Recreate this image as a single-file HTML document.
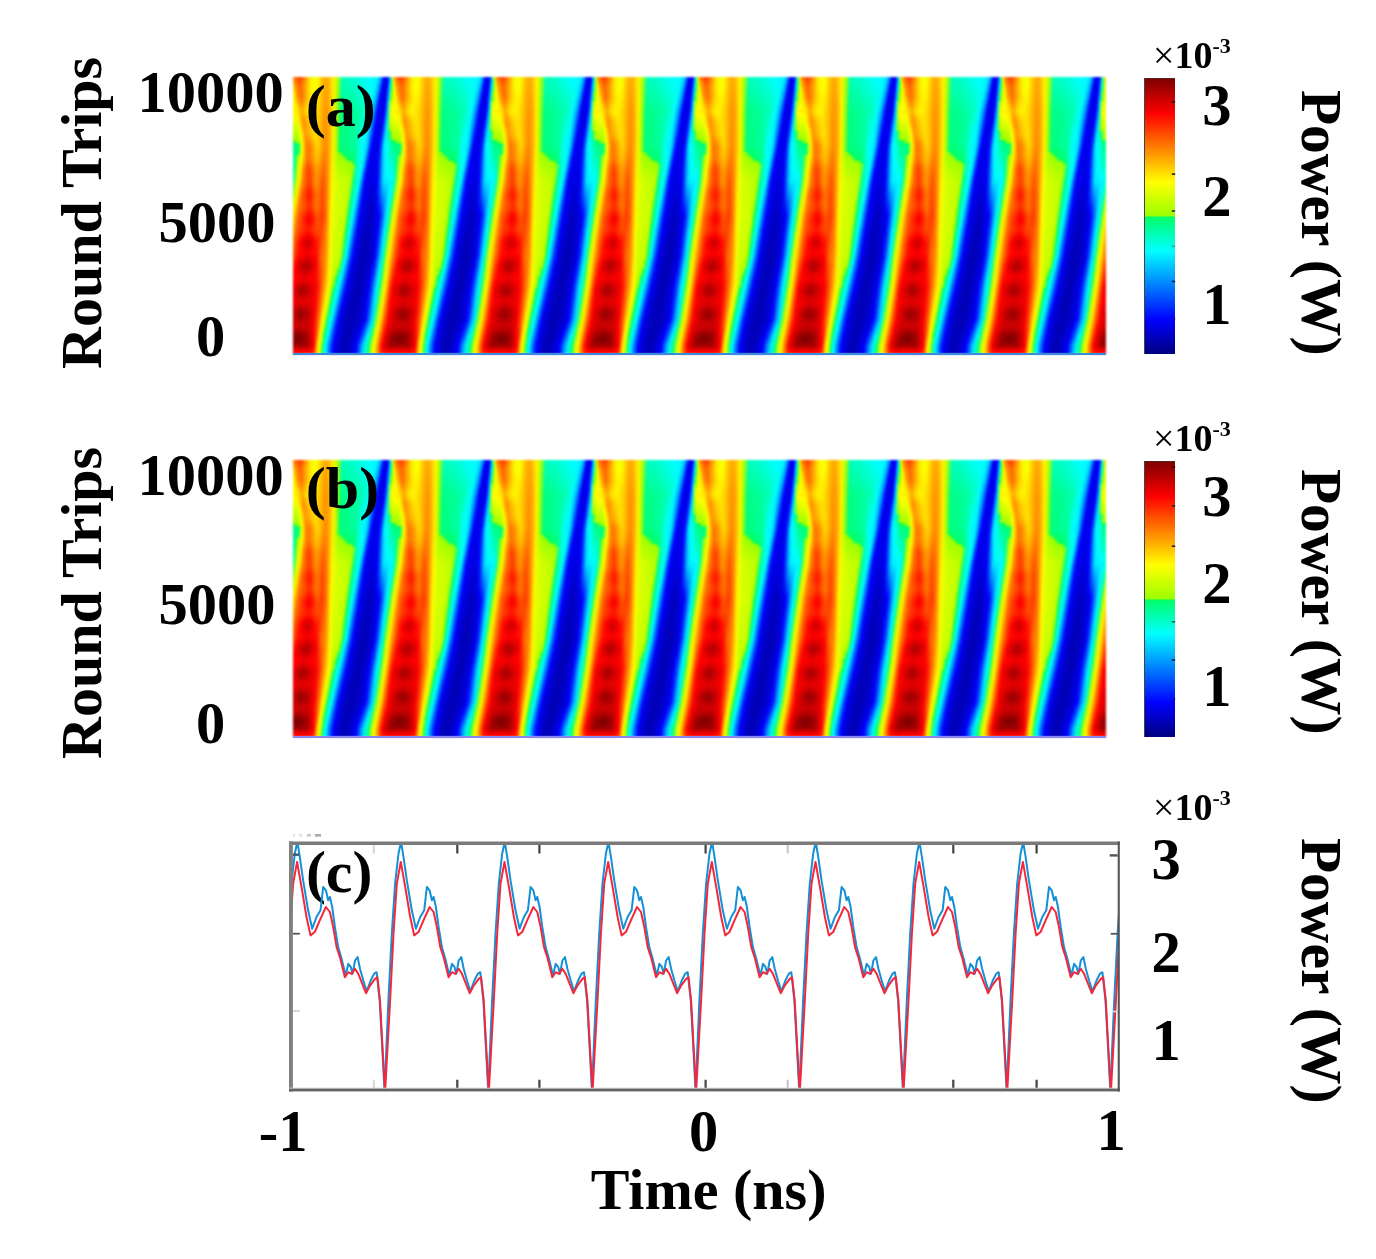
<!DOCTYPE html>
<html><head><meta charset="utf-8"><title>fig</title>
<style>
html,body{margin:0;padding:0;background:#fff}
body{width:1376px;height:1259px;position:relative;overflow:hidden;font-family:"Liberation Serif",serif;font-weight:bold;color:#000}
.hm{position:absolute;left:293px;width:813px;height:277px;overflow:hidden;filter:blur(1px)}
.hm i{position:absolute;left:0;width:813px;height:3.5px;display:block}
.hb{position:absolute;left:293px;width:813px;height:1.5px}
.r0{top:0px;background:repeating-linear-gradient(90deg,#0000e6 0.0px,#0000ed 0.8px,#0000f6 1.6px,#0005ff 2.4px,#0056ff 3.2px,#00baff 4.0px,#00ffe5 4.8px,#00ff8d 5.6px,#b9ff00 6.4px,#f5ff00 7.2px,#ffd000 8.0px,#ff9900 8.8px,#ff8300 9.6px,#ff7900 10.3px,#ff6f00 11.1px,#ff6400 11.9px,#ff5a00 12.7px,#ff5000 13.5px,#ff4600 14.3px,#ff3d00 15.1px,#ff4000 15.8px,#ff7000 19.2px,#ffab00 22.5px,#ffeb00 25.9px,#f1ff00 29.2px,#f9ff00 32.5px,#ffd900 35.9px,#ffb400 39.2px,#ffa900 42.5px,#ffc800 45.9px,#fff500 49.2px,#aeff00 53.6px,#00ffbc 58.0px,#00ffc3 62.4px,#00ffcb 66.9px,#00ffd4 71.3px,#00ffe4 75.7px,#00fff4 80.1px,#00fffd 84.5px,#00f9ff 88.9px,#00f0ff 93.3px,#00dbff 94.2px,#00c6ff 95.0px,#00b0ff 95.8px,#009aff 96.6px,#006eff 97.5px,#0038ff 98.3px,#0002ff 99.1px,#0000f7 99.9px,#0000ee 100.8px,#0000e6 101.6px);background-position:-8.7px 0}
.r1{top:3px;background:repeating-linear-gradient(90deg,#0000e6 0.0px,#0000ed 0.9px,#0000f6 1.8px,#0011ff 2.7px,#006aff 3.6px,#00d6ff 4.5px,#00ffcb 5.4px,#00ff7a 6.3px,#c1ff00 7.1px,#f5ff00 8.0px,#ffd500 8.9px,#ffa200 9.7px,#ff8e00 10.5px,#ff8500 11.2px,#ff7b00 12.0px,#ff7200 12.7px,#ff6800 13.5px,#ff5f00 14.3px,#ff5500 15.0px,#ff4d00 15.8px,#ff5100 16.5px,#ff7f00 19.9px,#ffb500 23.2px,#ffee00 26.5px,#f4ff00 29.8px,#fcff00 33.1px,#ffd500 36.4px,#ffb100 39.7px,#ffa800 43.0px,#ffc700 46.3px,#fff500 49.6px,#adff00 54.0px,#00ffb6 58.3px,#00ffbe 62.6px,#00ffc5 67.0px,#00ffce 71.3px,#00ffde 75.6px,#00ffed 80.0px,#00fff7 84.3px,#00fdff 88.6px,#00f2ff 93.0px,#00dcff 93.8px,#00c7ff 94.7px,#00b1ff 95.6px,#0099ff 96.4px,#006dff 97.3px,#0038ff 98.2px,#0002ff 99.0px,#0000f6 99.9px,#0000ed 100.7px,#0000e6 101.6px);background-position:-9.1px 0}
.r2{top:6px;background:repeating-linear-gradient(90deg,#0000e6 0.0px,#0000ed 1.0px,#0000f7 2.0px,#001dff 3.0px,#007eff 4.0px,#00f2ff 4.9px,#00ffb0 5.9px,#00ff67 6.9px,#c9ff00 7.9px,#f6ff00 8.9px,#ffd900 9.9px,#ffab00 10.6px,#ff9900 11.4px,#ff9000 12.1px,#ff8700 12.8px,#ff7e00 13.6px,#ff7500 14.3px,#ff6b00 15.0px,#ff6200 15.8px,#ff5c00 16.5px,#ff6000 17.2px,#ff8c00 20.5px,#ffbe00 23.8px,#fff000 27.1px,#f7ff00 30.4px,#fffe00 33.7px,#ffd200 36.9px,#ffaf00 40.2px,#ffa600 43.5px,#ffc600 46.8px,#fff500 50.1px,#acff00 54.3px,#00ffb1 58.6px,#00ffb9 62.8px,#00ffc0 67.1px,#00ffc8 71.4px,#00ffd7 75.6px,#00ffe7 79.9px,#00fff0 84.1px,#00fffc 88.4px,#00f3ff 92.6px,#00ddff 93.5px,#00c8ff 94.4px,#00b2ff 95.3px,#0099ff 96.2px,#006cff 97.1px,#0037ff 98.0px,#0002ff 98.9px,#0000f6 99.8px,#0000ec 100.7px,#0000e6 101.6px);background-position:-9.6px 0}
.r3{top:9px;background:repeating-linear-gradient(90deg,#0000e6 0.0px,#0000ec 1.1px,#0000f8 2.2px,#0029ff 3.3px,#0092ff 4.3px,#00ffed 5.4px,#00ff95 6.5px,#a5ff00 7.6px,#d1ff00 8.7px,#f9ff00 9.8px,#ffda00 10.8px,#ffb000 11.5px,#ff9f00 12.3px,#ff9700 13.0px,#ff8e00 13.7px,#ff8500 14.4px,#ff7c00 15.1px,#ff7300 15.8px,#ff6a00 16.5px,#ff6500 17.2px,#ff6900 17.9px,#ff9500 21.2px,#ffc300 24.4px,#fff000 27.7px,#faff00 31.0px,#fff900 34.2px,#ffcf00 37.5px,#ffac00 40.7px,#ffa400 44.0px,#ffc500 47.3px,#fff500 50.5px,#abff00 54.7px,#00ffac 58.9px,#00ffb3 63.0px,#00ffba 67.2px,#00ffc3 71.4px,#00ffd1 75.6px,#00ffe0 79.8px,#00ffea 83.9px,#00fff7 88.1px,#00f4ff 92.3px,#00dfff 93.2px,#00c9ff 94.1px,#00b3ff 95.1px,#0098ff 96.0px,#006bff 96.9px,#0036ff 97.9px,#0002ff 98.8px,#0000f6 99.7px,#0000ec 100.7px,#0000e6 101.6px);background-position:-10.0px 0}
.r4{top:12px;background:repeating-linear-gradient(90deg,#0000e6 0.0px,#0000ec 1.2px,#0000f8 2.4px,#0036ff 3.5px,#00a6ff 4.7px,#00ffcc 5.9px,#00ff7a 7.1px,#b2ff00 8.3px,#d8ff00 9.4px,#fdff00 10.6px,#ffd800 11.8px,#ffb200 12.5px,#ffa200 13.2px,#ff9900 13.8px,#ff9000 14.5px,#ff8700 15.2px,#ff7e00 15.9px,#ff7500 16.6px,#ff6c00 17.3px,#ff6800 17.9px,#ff6d00 18.6px,#ff9800 21.9px,#ffc500 25.1px,#ffef00 28.3px,#feff00 31.6px,#fff300 34.8px,#ffcb00 38.0px,#ffaa00 41.3px,#ffa300 44.5px,#ffc300 47.7px,#fff500 50.9px,#aaff00 55.0px,#00ffa7 59.1px,#00ffae 63.2px,#00ffb5 67.3px,#00ffbd 71.4px,#00ffca 75.5px,#00ffd9 79.6px,#00ffe3 83.7px,#00fff2 87.8px,#00f6ff 91.9px,#00e0ff 92.9px,#00caff 93.9px,#00b4ff 94.8px,#0097ff 95.8px,#006aff 96.8px,#0036ff 97.7px,#0002ff 98.7px,#0000f5 99.7px,#0000eb 100.6px,#0000e6 101.6px);background-position:-10.4px 0}
.r5{top:15px;background:repeating-linear-gradient(90deg,#0000e6 0.0px,#0000ec 1.3px,#0000f9 2.5px,#0042ff 3.8px,#00baff 5.1px,#00ffaa 6.4px,#9dff00 7.6px,#bfff00 8.9px,#e0ff00 10.2px,#fffa00 11.5px,#ffd500 12.7px,#ffb300 13.4px,#ffa300 14.1px,#ff9a00 14.7px,#ff9100 15.4px,#ff8800 16.0px,#ff7e00 16.7px,#ff7500 17.3px,#ff6c00 18.0px,#ff6a00 18.7px,#ff6e00 19.3px,#ff9a00 22.5px,#ffc600 25.7px,#ffed00 28.9px,#fffb00 32.1px,#ffee00 35.3px,#ffc800 38.6px,#ffa700 41.8px,#ffa100 45.0px,#ffc200 48.2px,#fff500 51.4px,#a9ff00 55.4px,#00ffa2 59.4px,#00ffa9 63.4px,#00ffaf 67.5px,#00ffb7 71.5px,#00ffc4 75.5px,#00ffd2 79.5px,#00ffdc 83.6px,#00ffed 87.6px,#00f7ff 91.6px,#00e1ff 92.6px,#00cbff 93.6px,#00b5ff 94.6px,#0096ff 95.6px,#0068ff 96.6px,#0035ff 97.6px,#0002ff 98.6px,#0000f5 99.6px,#0000eb 100.6px,#0000e6 101.6px);background-position:-10.9px 0}
.r6{top:18px;background:repeating-linear-gradient(90deg,#0000e6 0.0px,#0000ec 1.4px,#0000fa 2.7px,#004eff 4.1px,#00ceff 5.5px,#00ff88 6.8px,#afff00 8.2px,#ccff00 9.6px,#e8ff00 11.0px,#fff400 12.3px,#ffd200 13.7px,#ffb400 14.3px,#ffa600 15.0px,#ff9c00 15.6px,#ff9300 16.2px,#ff8a00 16.9px,#ff8100 17.5px,#ff7700 18.1px,#ff6e00 18.7px,#ff6d00 19.4px,#ff7200 20.0px,#ff9d00 23.2px,#ffc800 26.4px,#ffeb00 29.5px,#fff600 32.7px,#ffe900 35.9px,#ffc500 39.1px,#ffa500 42.3px,#ffa000 45.5px,#ffc100 48.6px,#fff500 51.8px,#a8ff00 55.8px,#00ff9d 59.7px,#00ffa3 63.6px,#00ffaa 67.6px,#00ffb1 71.5px,#00ffbd 75.5px,#00ffcb 79.4px,#00ffd6 83.4px,#00ffe8 87.3px,#00f8ff 91.2px,#00e2ff 92.3px,#00ccff 93.3px,#00b5ff 94.4px,#0095ff 95.4px,#0067ff 96.4px,#0034ff 97.5px,#0002ff 98.5px,#0000f5 99.5px,#0000ea 100.6px,#0000e6 101.6px);background-position:-11.3px 0}
.r7{top:21px;background:repeating-linear-gradient(90deg,#0000e6 0.0px,#0000eb 1.5px,#0000fa 2.9px,#005bff 4.4px,#00e2ff 5.9px,#00ff67 7.3px,#c1ff00 8.8px,#d8ff00 10.3px,#f2ff00 11.7px,#fff100 13.2px,#ffd300 14.6px,#ffba00 15.3px,#ffac00 15.9px,#ffa300 16.5px,#ff9a00 17.1px,#ff9100 17.7px,#ff8800 18.3px,#ff7f00 18.9px,#ff7600 19.5px,#ff7600 20.1px,#ff7b00 20.7px,#ffa600 23.9px,#ffcd00 27.0px,#ffeb00 30.2px,#fff200 33.3px,#ffe400 36.5px,#ffc100 39.6px,#ffa300 42.8px,#ff9e00 45.9px,#ffc000 49.1px,#fff500 52.2px,#a7ff00 56.1px,#00ff98 60.0px,#00ff9e 63.8px,#00ffa5 67.7px,#00ffab 71.6px,#00ffb7 75.4px,#00ffc4 79.3px,#00ffcf 83.2px,#00ffe3 87.0px,#00faff 90.9px,#00e3ff 92.0px,#00cdff 93.0px,#00b6ff 94.1px,#0095ff 95.2px,#0066ff 96.3px,#0034ff 97.3px,#0001ff 98.4px,#0000f4 99.5px,#0000e9 100.5px,#0000e6 101.6px);background-position:-11.7px 0}
.r8{top:24px;background:repeating-linear-gradient(90deg,#0000e6 0.0px,#0000eb 1.6px,#0000fb 3.1px,#0067ff 4.7px,#00f6ff 6.2px,#afff00 7.8px,#d3ff00 9.4px,#e5ff00 10.9px,#f8ff00 12.5px,#fff000 14.0px,#ffd800 15.6px,#ffc300 16.2px,#ffb700 16.8px,#ffae00 17.3px,#ffa500 17.9px,#ff9d00 18.5px,#ff9400 19.1px,#ff8c00 19.7px,#ff8300 20.2px,#ff8500 20.8px,#ff8a00 21.4px,#ffb300 24.5px,#ffd600 27.6px,#ffee00 30.8px,#ffef00 33.9px,#ffdf00 37.0px,#ffbe00 40.2px,#ffa000 43.3px,#ff9d00 46.4px,#ffbf00 49.6px,#fff500 52.7px,#a6ff00 56.5px,#00ff92 60.3px,#00ff99 64.0px,#00ff9f 67.8px,#00ffa6 71.6px,#00ffb1 75.4px,#00ffbe 79.2px,#00ffc9 83.0px,#00ffde 86.8px,#00fbff 90.6px,#00e4ff 91.7px,#00ceff 92.8px,#00b7ff 93.9px,#0094ff 95.0px,#0065ff 96.1px,#0033ff 97.2px,#0001ff 98.3px,#0000f4 99.4px,#0000e9 100.5px,#0000e6 101.6px);background-position:-12.2px 0}
.r9{top:27px;background:repeating-linear-gradient(90deg,#0000e6 0.0px,#0000eb 1.7px,#0000fc 3.3px,#0073ff 5.0px,#00fff3 6.6px,#c5ff00 8.3px,#e5ff00 9.9px,#f1ff00 11.6px,#feff00 13.2px,#fff100 14.9px,#ffde00 16.6px,#ffce00 17.1px,#ffc300 17.7px,#ffbb00 18.2px,#ffb300 18.8px,#ffab00 19.3px,#ffa300 19.9px,#ff9b00 20.4px,#ff9200 21.0px,#ff9600 21.5px,#ff9b00 22.1px,#ffc200 25.2px,#ffe000 28.3px,#fff100 31.4px,#ffec00 34.5px,#ffda00 37.6px,#ffbb00 40.7px,#ff9e00 43.8px,#ff9b00 46.9px,#ffbd00 50.0px,#fff500 53.1px,#a5ff00 56.8px,#00ff8d 60.5px,#00ff93 64.2px,#00ff9a 68.0px,#00ffa0 71.7px,#00ffaa 75.4px,#00ffb7 79.1px,#00ffc2 82.8px,#00ffd9 86.5px,#00fcff 90.2px,#00e5ff 91.3px,#00cfff 92.5px,#00b8ff 93.6px,#0093ff 94.8px,#0064ff 95.9px,#0032ff 97.0px,#0001ff 98.2px,#0000f4 99.3px,#0000e8 100.5px,#0000e6 101.6px);background-position:-12.6px 0}
.r10{top:30px;background:repeating-linear-gradient(90deg,#0000e6 0.0px,#0000ea 1.8px,#0000fc 3.5px,#007fff 5.3px,#00ffdb 7.0px,#dbff00 8.8px,#f6ff00 10.5px,#fdff00 12.3px,#fff900 14.0px,#fff100 15.8px,#ffe300 17.5px,#ffd700 18.0px,#ffce00 18.6px,#ffc700 19.1px,#ffbf00 19.6px,#ffb700 20.1px,#ffaf00 20.7px,#ffa700 21.2px,#ff9f00 21.7px,#ffa400 22.3px,#ffaa00 22.8px,#ffcf00 25.9px,#ffe900 28.9px,#fff300 32.0px,#ffe900 35.1px,#ffd600 38.2px,#ffb800 41.2px,#ff9b00 44.3px,#ff9a00 47.4px,#ffbc00 50.5px,#fff500 53.5px,#a4ff00 57.2px,#00ff88 60.8px,#00ff8e 64.4px,#00ff94 68.1px,#00ff9a 71.7px,#00ffa4 75.3px,#00ffb0 79.0px,#00ffbc 82.6px,#00ffd4 86.2px,#00feff 89.9px,#00e7ff 91.0px,#00d0ff 92.2px,#00b9ff 93.4px,#0092ff 94.6px,#0062ff 95.7px,#0032ff 96.9px,#0001ff 98.1px,#0000f3 99.3px,#0000e7 100.4px,#0000e6 101.6px);background-position:-13.0px 0}
.r11{top:33px;background:repeating-linear-gradient(90deg,#0000e6 0.0px,#0000ea 1.8px,#0000fd 3.7px,#008cff 5.5px,#00ffc3 7.4px,#f1ff00 9.2px,#fff400 11.1px,#fff200 12.9px,#ffef00 14.8px,#ffed00 16.6px,#ffe400 18.5px,#ffdd00 19.0px,#ffd500 19.5px,#ffce00 20.0px,#ffc600 20.5px,#ffbe00 21.0px,#ffb700 21.5px,#ffaf00 22.0px,#ffa700 22.5px,#ffad00 23.0px,#ffb300 23.5px,#ffd800 26.5px,#ffee00 29.6px,#fff300 32.6px,#ffe500 35.7px,#ffd100 38.7px,#ffb500 41.8px,#ff9900 44.8px,#ff9800 47.9px,#ffbb00 50.9px,#fff500 54.0px,#a3ff00 57.5px,#00ff83 61.1px,#00ff89 64.6px,#00ff8f 68.2px,#00ff94 71.7px,#00ff9d 75.3px,#00ffa9 78.9px,#00ffb5 82.4px,#00ffcf 86.0px,#00ffff 89.5px,#00e8ff 90.7px,#00d1ff 91.9px,#00baff 93.1px,#0091ff 94.3px,#0061ff 95.6px,#0031ff 96.8px,#0001ff 98.0px,#0000f3 99.2px,#0000e7 100.4px,#0000e6 101.6px);background-position:-13.5px 0}
.r12{top:36px;background:repeating-linear-gradient(90deg,#0000e6 0.0px,#0000eb 1.9px,#0003ff 3.8px,#0095ff 5.8px,#00ffc6 7.7px,#e5ff00 9.6px,#feff00 11.5px,#fffd00 13.5px,#fffb00 15.4px,#fff800 17.3px,#ffe700 19.2px,#ffde00 19.8px,#ffd500 20.3px,#ffcc00 20.8px,#ffc300 21.3px,#ffbb00 21.8px,#ffb200 22.3px,#ffa900 22.8px,#ffa000 23.3px,#ffa500 23.8px,#ffab00 24.3px,#ffce00 27.3px,#ffe500 30.3px,#ffee00 33.4px,#ffe300 36.4px,#ffcf00 39.4px,#ffb300 42.4px,#ff9700 45.4px,#ff9800 48.4px,#ffbb00 51.4px,#fff500 54.4px,#a4ff00 57.9px,#00ff82 61.5px,#00ff88 65.0px,#00ff8e 68.5px,#00ff94 72.1px,#00ff9d 75.6px,#00ffa8 79.1px,#00ffb9 82.7px,#00ffd4 86.2px,#00fdff 89.7px,#00e4ff 90.9px,#00cbff 92.1px,#00b2ff 93.3px,#008aff 94.5px,#005aff 95.7px,#002dff 96.9px,#0000ff 98.0px,#0000f3 99.2px,#0000e7 100.4px,#0000e6 101.6px);background-position:-14.0px 0}
.r13{top:39px;background:repeating-linear-gradient(90deg,#0000e6 0.0px,#0000eb 2.0px,#0008ff 4.0px,#009eff 6.0px,#00ffcb 8.0px,#d7ff00 10.0px,#f3ff00 12.0px,#f6ff00 14.0px,#f9ff00 16.0px,#fdff00 18.0px,#ffe800 20.0px,#ffde00 20.5px,#ffd300 21.1px,#ffc900 21.6px,#ffbf00 22.1px,#ffb400 22.6px,#ffaa00 23.1px,#ffa000 23.6px,#ff9600 24.2px,#ff9a00 24.7px,#ffa000 25.2px,#ffc100 28.2px,#ffda00 31.1px,#ffe700 34.1px,#ffe000 37.1px,#ffcc00 40.0px,#ffb100 43.0px,#ff9500 46.0px,#ff9900 48.9px,#ffbb00 51.9px,#fff500 54.8px,#a5ff00 58.4px,#00ff82 61.9px,#00ff87 65.4px,#00ff8d 68.9px,#00ff93 72.4px,#00ff9c 75.9px,#00ffa8 79.5px,#00ffbe 83.0px,#00ffda 86.5px,#00fbff 90.0px,#00e0ff 91.2px,#00c5ff 92.3px,#00abff 93.5px,#0082ff 94.6px,#0053ff 95.8px,#0028ff 97.0px,#0000fe 98.1px,#0000f2 99.3px,#0000e7 100.4px,#0000e6 101.6px);background-position:-14.4px 0}
.r14{top:42px;background:repeating-linear-gradient(90deg,#0000e7 0.0px,#0000ec 2.1px,#000dff 4.2px,#00a7ff 6.2px,#00ffcf 8.3px,#c8ff00 10.4px,#e7ff00 12.5px,#eaff00 14.6px,#efff00 16.6px,#f3ff00 18.7px,#ffec00 20.8px,#ffdf00 21.3px,#ffd300 21.9px,#ffc700 22.4px,#ffbc00 22.9px,#ffb000 23.4px,#ffa500 24.0px,#ff9a00 24.5px,#ff8f00 25.0px,#ff9200 25.5px,#ff9700 26.1px,#ffb600 29.0px,#ffd100 31.9px,#ffe200 34.8px,#ffdf00 37.8px,#ffca00 40.7px,#ffaf00 43.6px,#ff9400 46.5px,#ff9900 49.4px,#ffbb00 52.4px,#fff500 55.3px,#a6ff00 58.8px,#00ff81 62.3px,#00ff87 65.8px,#00ff8d 69.3px,#00ff93 72.8px,#00ff9c 76.3px,#00ffa7 79.8px,#00ffc3 83.3px,#00ffdf 86.8px,#00f8ff 90.3px,#00dcff 91.4px,#00c0ff 92.5px,#00a3ff 93.7px,#007aff 94.8px,#004bff 95.9px,#0024ff 97.1px,#0000fd 98.2px,#0000f2 99.3px,#0000e8 100.5px,#0000e7 101.6px);background-position:-14.9px 0}
.r15{top:45px;background:repeating-linear-gradient(90deg,#0000e7 0.0px,#0000ec 2.2px,#0012ff 4.3px,#00b0ff 6.5px,#00ffd4 8.6px,#baff00 10.8px,#dbff00 13.0px,#deff00 15.1px,#e1ff00 17.3px,#e4ff00 19.4px,#fff300 21.6px,#ffe500 22.1px,#ffd800 22.7px,#ffcb00 23.2px,#ffbe00 23.7px,#ffb200 24.3px,#ffa500 24.8px,#ff9900 25.3px,#ff8d00 25.9px,#ff8f00 26.4px,#ff9400 26.9px,#ffb100 29.8px,#ffcb00 32.7px,#ffde00 35.6px,#ffde00 38.4px,#ffc800 41.3px,#ffad00 44.2px,#ff9200 47.1px,#ff9a00 50.0px,#ffbc00 52.8px,#fff500 55.7px,#a6ff00 59.2px,#00ff80 62.7px,#00ff86 66.2px,#00ff8c 69.6px,#00ff93 73.1px,#00ff9b 76.6px,#00ffa6 80.1px,#00ffc8 83.6px,#00ffe4 87.0px,#00f6ff 90.5px,#00d8ff 91.6px,#00baff 92.7px,#009cff 93.9px,#0072ff 95.0px,#0044ff 96.1px,#001fff 97.2px,#0000fc 98.3px,#0000f2 99.4px,#0000e8 100.5px,#0000e7 101.6px);background-position:-15.4px 0}
.r16{top:48px;background:repeating-linear-gradient(90deg,#0000e8 0.0px,#0000ed 2.2px,#0017ff 4.5px,#00b9ff 6.7px,#00ffd8 8.9px,#acff00 11.2px,#cfff00 13.4px,#d2ff00 15.7px,#d5ff00 17.9px,#d8ff00 20.1px,#fffd00 22.4px,#ffef00 22.9px,#ffe000 23.5px,#ffd200 24.0px,#ffc500 24.5px,#ffb800 25.1px,#ffaa00 25.6px,#ff9d00 26.2px,#ff9000 26.7px,#ff9100 27.3px,#ff9600 27.8px,#ffb000 30.6px,#ffc800 33.5px,#ffdd00 36.3px,#ffde00 39.1px,#ffc700 42.0px,#ffac00 44.8px,#ff9100 47.6px,#ff9a00 50.5px,#ffbc00 53.3px,#fff500 56.1px,#a7ff00 59.6px,#00ff80 63.1px,#00ff86 66.5px,#00ff8c 70.0px,#00ff92 73.5px,#00ff9b 76.9px,#00ffa6 80.4px,#00ffcd 83.9px,#00ffea 87.3px,#00f4ff 90.8px,#00d4ff 91.9px,#00b4ff 93.0px,#0094ff 94.0px,#006bff 95.1px,#003dff 96.2px,#001aff 97.3px,#0000fb 98.4px,#0000f1 99.4px,#0000e8 100.5px,#0000e8 101.6px);background-position:-15.9px 0}
.r17{top:51px;background:repeating-linear-gradient(90deg,#0000e8 0.0px,#0000ee 2.3px,#001bff 4.6px,#00c2ff 6.9px,#00ffdc 9.3px,#9dff00 11.6px,#c4ff00 13.9px,#c7ff00 16.2px,#caff00 18.5px,#cdff00 20.8px,#f6ff00 23.1px,#fffa00 23.7px,#ffeb00 24.2px,#ffdc00 24.8px,#ffce00 25.4px,#ffc000 25.9px,#ffb200 26.5px,#ffa400 27.0px,#ff9600 27.6px,#ff9600 28.1px,#ff9a00 28.7px,#ffb100 31.5px,#ffc700 34.2px,#ffdc00 37.0px,#ffde00 39.8px,#ffc600 42.6px,#ffaa00 45.4px,#ff8f00 48.2px,#ff9b00 51.0px,#ffbc00 53.8px,#fff500 56.6px,#a8ff00 60.0px,#00ff7f 63.5px,#00ff85 66.9px,#00ff8b 70.4px,#00ff92 73.8px,#00ff9b 77.3px,#00ffa5 80.7px,#00ffd2 84.2px,#00ffef 87.6px,#00f2ff 91.0px,#00d0ff 92.1px,#00afff 93.2px,#008dff 94.2px,#0063ff 95.3px,#0035ff 96.3px,#0016ff 97.4px,#0000fa 98.4px,#0000f1 99.5px,#0000e9 100.5px,#0000e8 101.6px);background-position:-16.3px 0}
.r18{top:54px;background:repeating-linear-gradient(90deg,#0000e9 0.0px,#0000ee 2.4px,#0020ff 4.8px,#00cbff 7.2px,#00ffe1 9.6px,#00ff75 12.0px,#b8ff00 14.4px,#bbff00 16.7px,#beff00 19.1px,#c1ff00 21.5px,#eeff00 23.9px,#fbff00 24.5px,#fff400 25.0px,#ffe400 25.6px,#ffd500 26.2px,#ffc600 26.7px,#ffb700 27.3px,#ffa800 27.8px,#ff9900 28.4px,#ff9800 29.0px,#ff9c00 29.5px,#ffb100 32.3px,#ffc500 35.0px,#ffdb00 37.8px,#ffdf00 40.5px,#ffc500 43.3px,#ffa800 46.0px,#ff8e00 48.8px,#ff9b00 51.5px,#ffbc00 54.3px,#fff500 57.0px,#a9ff00 60.4px,#00ff7f 63.9px,#00ff85 67.3px,#00ff8a 70.7px,#00ff91 74.2px,#00ff9a 77.6px,#00ffa5 81.0px,#00ffd6 84.4px,#00fff4 87.9px,#00f0ff 91.3px,#00ccff 92.3px,#00a9ff 93.4px,#0085ff 94.4px,#005bff 95.4px,#002eff 96.5px,#0011ff 97.5px,#0000f9 98.5px,#0000f1 99.5px,#0000e9 100.6px,#0000e9 101.6px);background-position:-16.8px 0}
.r19{top:57px;background:repeating-linear-gradient(90deg,#0000e9 0.0px,#0000ef 2.5px,#0025ff 4.9px,#00d4ff 7.4px,#00ffe5 9.9px,#00ff8a 12.4px,#acff00 14.8px,#afff00 17.3px,#b3ff00 19.8px,#b6ff00 22.2px,#e8ff00 24.7px,#f6ff00 25.3px,#fff800 25.8px,#ffe700 26.4px,#ffd700 27.0px,#ffc700 27.6px,#ffb700 28.1px,#ffa700 28.7px,#ff9700 29.3px,#ff9500 29.8px,#ff9900 30.4px,#ffab00 33.1px,#ffbf00 35.8px,#ffd800 38.5px,#ffde00 41.2px,#ffc300 43.9px,#ffa700 46.6px,#ff8c00 49.3px,#ff9c00 52.0px,#ffbc00 54.7px,#fff500 57.4px,#a9ff00 60.9px,#00ff7e 64.3px,#00ff84 67.7px,#00ff8a 71.1px,#00ff91 74.5px,#00ff9a 77.9px,#00ffa4 81.3px,#00ffdb 84.7px,#00fff9 88.2px,#00edff 91.6px,#00c8ff 92.6px,#00a3ff 93.6px,#007eff 94.6px,#0053ff 95.6px,#0026ff 96.6px,#000cff 97.6px,#0000f8 98.6px,#0000f0 99.6px,#0000e9 100.6px,#0000e9 101.6px);background-position:-17.3px 0}
.r20{top:60px;background:repeating-linear-gradient(90deg,#0000e9 0.0px,#0000ef 2.5px,#002aff 5.1px,#00ddff 7.6px,#00ffea 10.2px,#00ffa0 12.7px,#a1ff00 15.3px,#a4ff00 17.8px,#a7ff00 20.4px,#aaff00 22.9px,#e8ff00 25.5px,#f5ff00 26.1px,#fff800 26.6px,#ffe600 27.2px,#ffd400 27.8px,#ffc300 28.4px,#ffb200 29.0px,#ffa100 29.5px,#ff8f00 30.1px,#ff8d00 30.7px,#ff9000 31.3px,#ffa000 33.9px,#ffb600 36.6px,#ffd200 39.2px,#ffdc00 41.9px,#ffc100 44.6px,#ffa500 47.2px,#ff8a00 49.9px,#ff9c00 52.6px,#ffbc00 55.2px,#fff500 57.9px,#aaff00 61.3px,#00ff7e 64.7px,#00ff84 68.1px,#00ff89 71.5px,#00ff91 74.9px,#00ff9a 78.2px,#00ffa3 81.6px,#00ffe0 85.0px,#00ffff 88.4px,#00ebff 91.8px,#00c4ff 92.8px,#009dff 93.8px,#0076ff 94.8px,#004cff 95.7px,#001fff 96.7px,#0008ff 97.7px,#0000f7 98.7px,#0000f0 99.6px,#0000ea 100.6px,#0000e9 101.6px);background-position:-17.8px 0}
.r21{top:63px;background:repeating-linear-gradient(90deg,#0000ea 0.0px,#0000f0 2.6px,#002fff 5.3px,#00e6ff 7.9px,#00ffee 10.5px,#00ffb5 13.1px,#00ff6c 15.8px,#00ff67 18.4px,#9bff00 21.0px,#9fff00 23.6px,#e2ff00 26.3px,#f5ff00 26.9px,#fff600 27.4px,#ffe300 28.0px,#ffd000 28.6px,#ffbd00 29.2px,#ffab00 29.8px,#ff9800 30.4px,#ff8600 31.0px,#ff8200 31.5px,#ff8500 32.1px,#ff9300 34.7px,#ffaa00 37.4px,#ffcb00 40.0px,#ffd900 42.6px,#ffbe00 45.2px,#ffa300 47.8px,#ff8900 50.5px,#ff9c00 53.1px,#ffbc00 55.7px,#fff500 58.3px,#abff00 61.7px,#00ff7d 65.1px,#00ff83 68.4px,#00ff89 71.8px,#00ff90 75.2px,#00ff99 78.6px,#00ffa3 82.0px,#00ffe5 85.3px,#00fbff 88.7px,#00e9ff 92.1px,#00c0ff 93.0px,#0098ff 94.0px,#006fff 94.9px,#0044ff 95.9px,#0018ff 96.8px,#0003ff 97.8px,#0000f7 98.7px,#0000f0 99.7px,#0000ea 100.6px,#0000ea 101.6px);background-position:-18.2px 0}
.r22{top:66px;background:repeating-linear-gradient(90deg,#0000ea 0.0px,#0000f0 2.7px,#0034ff 5.4px,#00efff 8.1px,#00fff3 10.8px,#00ffcb 13.5px,#00ff7e 16.2px,#00ff79 18.9px,#00ff74 21.6px,#00ff6f 24.3px,#ddff00 27.0px,#f4ff00 27.6px,#fff700 28.2px,#ffe100 28.8px,#ffcd00 29.4px,#ffb900 30.0px,#ffa600 30.6px,#ff9200 31.2px,#ff7e00 31.8px,#ff7a00 32.4px,#ff7c00 33.0px,#ff8900 35.6px,#ffa000 38.1px,#ffc400 40.7px,#ffd700 43.3px,#ffbc00 45.9px,#ffa100 48.4px,#ff8700 51.0px,#ff9d00 53.6px,#ffbc00 56.2px,#fff500 58.7px,#acff00 62.1px,#00ff7d 65.5px,#00ff82 68.8px,#00ff88 72.2px,#00ff90 75.5px,#00ff99 78.9px,#00ffa2 82.3px,#00ffea 85.6px,#00f6ff 89.0px,#00e7ff 92.3px,#00bcff 93.3px,#0092ff 94.2px,#0067ff 95.1px,#003cff 96.0px,#0010ff 97.0px,#0000fd 97.9px,#0000f6 98.8px,#0000ef 99.7px,#0000ea 100.7px,#0000ea 101.6px);background-position:-18.7px 0}
.r23{top:69px;background:repeating-linear-gradient(90deg,#0000ea 0.0px,#0000f0 2.8px,#0035ff 5.5px,#00f0ff 8.3px,#00fff7 11.0px,#00ffd9 13.8px,#00ff8d 16.5px,#00ff88 19.3px,#00ff80 22.0px,#00ff76 24.8px,#dbff00 27.6px,#f3ff00 28.2px,#fff700 28.8px,#ffe000 29.4px,#ffcb00 30.0px,#ffb700 30.6px,#ffa300 31.3px,#ff8f00 31.9px,#ff7b00 32.5px,#ff7500 33.1px,#ff7700 33.7px,#ff8300 36.3px,#ff9a00 38.8px,#ffc000 41.3px,#ffd300 43.9px,#ffb800 46.4px,#ff9d00 48.9px,#ff8500 51.5px,#ff9c00 54.0px,#ffbc00 56.6px,#fff500 59.1px,#aeff00 62.4px,#00ff78 65.8px,#00ff7e 69.1px,#00ff84 72.4px,#00ff8c 75.7px,#00ff95 79.1px,#00ff9e 82.4px,#00ffe9 85.7px,#00f6ff 89.0px,#00e7ff 92.4px,#00bbff 93.3px,#008fff 94.2px,#0063ff 95.1px,#0036ff 96.1px,#000bff 97.0px,#0000fa 97.9px,#0000f5 98.8px,#0000ef 99.8px,#0000ea 100.7px,#0000ea 101.6px);background-position:-19.1px 0}
.r24{top:72px;background:repeating-linear-gradient(90deg,#0000ea 0.0px,#0000ef 2.8px,#0030ff 5.5px,#00e3ff 8.3px,#00fffa 11.1px,#00ffdf 13.8px,#00ff98 16.6px,#00ff93 19.4px,#00ff84 22.1px,#00ff70 24.9px,#dfff00 27.7px,#f4ff00 28.3px,#fff400 29.0px,#ffdd00 29.6px,#ffc700 30.3px,#ffb300 31.0px,#ffa000 31.6px,#ff8d00 32.3px,#ff7a00 32.9px,#ff7400 33.6px,#ff7500 34.2px,#ff8300 36.7px,#ff9a00 39.3px,#ffbe00 41.8px,#ffcd00 44.3px,#ffb100 46.8px,#ff9600 49.3px,#ff8200 51.8px,#ff9a00 54.3px,#ffbc00 56.8px,#fff500 59.3px,#b3ff00 62.6px,#00ff6f 65.9px,#00ff75 69.2px,#00ff7b 72.4px,#00ff82 75.7px,#00ff8b 79.0px,#00ff94 82.2px,#00ffe0 85.5px,#00fbff 88.8px,#00eaff 92.1px,#00beff 93.0px,#0090ff 94.0px,#0062ff 94.9px,#0034ff 95.9px,#000aff 96.8px,#0000fa 97.8px,#0000f4 98.7px,#0000ee 99.7px,#0000ea 100.6px,#0000ea 101.6px);background-position:-19.5px 0}
.r25{top:75px;background:repeating-linear-gradient(90deg,#0000ea 0.0px,#0000ee 2.8px,#002aff 5.6px,#00d7ff 8.3px,#00fffe 11.1px,#00ffe4 13.9px,#00ffa4 16.7px,#00ff9f 19.5px,#00ff89 22.3px,#00ff6b 25.0px,#e3ff00 27.8px,#f5ff00 28.5px,#fff300 29.2px,#ffdc00 29.9px,#ffc500 30.6px,#ffb200 31.3px,#ffa000 32.0px,#ff8e00 32.7px,#ff7c00 33.4px,#ff7600 34.1px,#ff7600 34.8px,#ff8400 37.2px,#ff9b00 39.7px,#ffbd00 42.2px,#ffc700 44.7px,#ffab00 47.2px,#ff9000 49.6px,#ff7f00 52.1px,#ff9900 54.6px,#ffbc00 57.1px,#fff500 59.6px,#b9ff00 62.8px,#9aff00 66.0px,#00ff6b 69.2px,#00ff72 72.4px,#00ff79 75.7px,#00ff82 78.9px,#00ff8b 82.1px,#00ffd6 85.3px,#00fffe 88.5px,#00ecff 91.8px,#00c0ff 92.8px,#0090ff 93.7px,#0061ff 94.7px,#0031ff 95.7px,#0008ff 96.7px,#0000f9 97.7px,#0000f3 98.7px,#0000ed 99.6px,#0000ea 100.6px,#0000ea 101.6px);background-position:-19.8px 0}
.r26{top:78px;background:repeating-linear-gradient(90deg,#0000e9 0.0px,#0000ed 2.8px,#0025ff 5.6px,#00cbff 8.4px,#00fdff 11.2px,#00ffea 14.0px,#00ffb0 16.8px,#00ffaa 19.6px,#00ff8d 22.4px,#9aff00 25.1px,#e7ff00 27.9px,#f7ff00 28.7px,#fff000 29.4px,#ffd800 30.1px,#ffc100 30.9px,#ffae00 31.6px,#ff9e00 32.3px,#ff8d00 33.1px,#ff7c00 33.8px,#ff7500 34.5px,#ff7400 35.3px,#ff8400 37.7px,#ff9b00 40.2px,#ffbb00 42.6px,#ffc100 45.1px,#ffa500 47.5px,#ff8a00 50.0px,#ff7d00 52.4px,#ff9700 54.9px,#ffbc00 57.3px,#fff500 59.8px,#beff00 63.0px,#a0ff00 66.1px,#9cff00 69.3px,#00ff68 72.5px,#00ff70 75.6px,#00ff79 78.8px,#00ff81 82.0px,#00ffcd 85.1px,#00fff8 88.3px,#00efff 91.5px,#00c3ff 92.5px,#0091ff 93.5px,#0060ff 94.5px,#002eff 95.5px,#0007ff 96.5px,#0000f8 97.5px,#0000f2 98.6px,#0000ec 99.6px,#0000e9 100.6px,#0000e9 101.6px);background-position:-20.2px 0}
.r27{top:81px;background:repeating-linear-gradient(90deg,#0000e9 0.0px,#0000ec 2.8px,#001fff 5.6px,#00bfff 8.4px,#00fbff 11.2px,#00ffef 14.0px,#00ffbb 16.8px,#00ffb6 19.7px,#00ff91 22.5px,#9eff00 25.3px,#e7ff00 28.1px,#fcff00 28.8px,#ffe900 29.6px,#ffd000 30.4px,#ffb800 31.2px,#ffa600 31.9px,#ff9600 32.7px,#ff8600 33.5px,#ff7600 34.3px,#ff6f00 35.0px,#ff6c00 35.8px,#ff7e00 38.2px,#ff9600 40.6px,#ffb600 43.1px,#ffba00 45.5px,#ff9e00 47.9px,#ff8300 50.3px,#ff7a00 52.8px,#ff9500 55.2px,#ffbc00 57.6px,#fff500 60.0px,#c3ff00 63.1px,#a6ff00 66.3px,#a2ff00 69.4px,#9eff00 72.5px,#00ff67 75.6px,#00ff6f 78.7px,#00ff78 81.8px,#00ffc4 84.9px,#00fff1 88.0px,#00f2ff 91.2px,#00c6ff 92.2px,#0092ff 93.2px,#005fff 94.3px,#002bff 95.3px,#0005ff 96.4px,#0000f7 97.4px,#0000f1 98.5px,#0000eb 99.5px,#0000e9 100.6px,#0000e9 101.6px);background-position:-20.5px 0}
.r28{top:84px;background:repeating-linear-gradient(90deg,#0000e8 0.0px,#0000eb 2.8px,#001aff 5.6px,#00b2ff 8.5px,#00f8ff 11.3px,#00fff4 14.1px,#00ffc7 16.9px,#00ffc1 19.7px,#00ff96 22.6px,#a2ff00 25.4px,#edff00 28.2px,#fffa00 29.0px,#ffdf00 29.8px,#ffc500 30.6px,#ffab00 31.4px,#ff9900 32.3px,#ff8a00 33.1px,#ff7a00 33.9px,#ff6b00 34.7px,#ff6300 35.5px,#ff5f00 36.3px,#ff7400 38.7px,#ff8d00 41.1px,#ffaf00 43.5px,#ffb100 45.9px,#ff9600 48.3px,#ff7c00 50.7px,#ff7700 53.1px,#ff9300 55.5px,#ffbc00 57.9px,#fff500 60.3px,#c8ff00 63.3px,#adff00 66.4px,#a8ff00 69.4px,#a4ff00 72.5px,#9fff00 75.6px,#99ff00 78.6px,#00ff6e 81.7px,#00ffbb 84.7px,#00ffeb 87.8px,#00f5ff 90.9px,#00c8ff 91.9px,#0093ff 93.0px,#005eff 94.1px,#0028ff 95.2px,#0004ff 96.2px,#0000f7 97.3px,#0000f0 98.4px,#0000eb 99.5px,#0000e8 100.5px,#0000e8 101.6px);background-position:-20.9px 0}
.r29{top:87px;background:repeating-linear-gradient(90deg,#0000e8 0.0px,#0000eb 2.8px,#0015ff 5.7px,#00a6ff 8.5px,#00f5ff 11.3px,#00fffa 14.2px,#00ffd3 17.0px,#00ffcd 19.8px,#00ff9a 22.7px,#a6ff00 25.5px,#f4ff00 28.3px,#fff000 29.2px,#ffd400 30.0px,#ffb800 30.9px,#ff9d00 31.7px,#ff8b00 32.6px,#ff7b00 33.4px,#ff6c00 34.3px,#ff5d00 35.1px,#ff5500 36.0px,#ff5000 36.8px,#ff6700 39.2px,#ff8300 41.6px,#ffa600 43.9px,#ffa600 46.3px,#ff8e00 48.7px,#ff7500 51.0px,#ff7400 53.4px,#ff9100 55.8px,#ffbb00 58.1px,#fff500 60.5px,#cdff00 63.5px,#b3ff00 66.5px,#afff00 69.5px,#aaff00 72.5px,#a5ff00 75.5px,#9fff00 78.5px,#9aff00 81.5px,#00ffb2 84.5px,#00ffe5 87.5px,#00f8ff 90.6px,#00cbff 91.7px,#0094ff 92.8px,#005dff 93.9px,#0026ff 95.0px,#0002ff 96.1px,#0000f6 97.2px,#0000ef 98.3px,#0000ea 99.4px,#0000e8 100.5px,#0000e8 101.6px);background-position:-21.2px 0}
.r30{top:90px;background:repeating-linear-gradient(90deg,#0000e7 0.0px,#0000ea 2.8px,#000fff 5.7px,#009aff 8.5px,#00f2ff 11.4px,#00ffff 14.2px,#00ffde 17.1px,#00ffd8 19.9px,#00ff9f 22.8px,#aaff00 25.6px,#faff00 28.5px,#ffe800 29.4px,#ffcb00 30.2px,#ffad00 31.1px,#ff9100 32.0px,#ff7e00 32.9px,#ff6f00 33.8px,#ff6100 34.7px,#ff5200 35.6px,#ff4900 36.5px,#ff4300 37.4px,#ff5c00 39.7px,#ff7a00 42.0px,#ff9e00 44.4px,#ff9d00 46.7px,#ff8600 49.0px,#ff6e00 51.4px,#ff7000 53.7px,#ff9000 56.1px,#ffbb00 58.4px,#fff500 60.7px,#d3ff00 63.7px,#baff00 66.6px,#b5ff00 69.6px,#b0ff00 72.5px,#abff00 75.5px,#a5ff00 78.4px,#a0ff00 81.4px,#00ffa9 84.3px,#00ffdf 87.3px,#00fbff 90.3px,#00cdff 91.4px,#0095ff 92.5px,#005cff 93.7px,#0023ff 94.8px,#0001ff 95.9px,#0000f5 97.1px,#0000ee 98.2px,#0000e9 99.3px,#0000e7 100.5px,#0000e7 101.6px);background-position:-21.6px 0}
.r31{top:93px;background:repeating-linear-gradient(90deg,#0000e7 0.0px,#0000e9 2.9px,#000aff 5.7px,#008eff 8.6px,#00f0ff 11.4px,#00faff 14.3px,#00ffea 17.2px,#00ffe4 20.0px,#00ffa3 22.9px,#aeff00 25.7px,#fdff00 28.6px,#ffe300 29.5px,#ffc400 30.5px,#ffa600 31.4px,#ff8800 32.3px,#ff7600 33.2px,#ff6800 34.2px,#ff5a00 35.1px,#ff4c00 36.0px,#ff4300 36.9px,#ff3c00 37.9px,#ff5700 40.2px,#ff7600 42.5px,#ff9900 44.8px,#ff9500 47.1px,#ff7e00 49.4px,#ff6700 51.7px,#ff6e00 54.0px,#ff8e00 56.4px,#ffbb00 58.7px,#fff500 61.0px,#d8ff00 63.9px,#c0ff00 66.8px,#bbff00 69.7px,#b6ff00 72.6px,#b1ff00 75.5px,#acff00 78.4px,#a6ff00 81.3px,#00ff9f 84.2px,#00ffd9 87.0px,#00fdff 89.9px,#00d0ff 91.1px,#0095ff 92.3px,#005bff 93.4px,#0020ff 94.6px,#0000ff 95.8px,#0000f4 96.9px,#0000ed 98.1px,#0000e8 99.3px,#0000e7 100.4px,#0000e7 101.6px);background-position:-21.9px 0}
.r32{top:96px;background:repeating-linear-gradient(90deg,#0000e6 0.0px,#0000e8 2.9px,#0004ff 5.7px,#0081ff 8.6px,#00edff 11.5px,#00f6ff 14.4px,#00fff6 17.2px,#00ffef 20.1px,#00ffa7 23.0px,#b2ff00 25.9px,#fffe00 28.7px,#ffdf00 29.7px,#ffc100 30.7px,#ffa200 31.6px,#ff8400 32.6px,#ff7200 33.6px,#ff6500 34.5px,#ff5900 35.5px,#ff4c00 36.5px,#ff4200 37.4px,#ff3a00 38.4px,#ff5600 40.7px,#ff7500 43.0px,#ff9700 45.2px,#ff8f00 47.5px,#ff7800 49.8px,#ff6100 52.1px,#ff6b00 54.4px,#ff8c00 56.6px,#ffbb00 58.9px,#fff500 61.2px,#ddff00 64.0px,#c6ff00 66.9px,#c1ff00 69.7px,#bcff00 72.6px,#b7ff00 75.4px,#b2ff00 78.3px,#adff00 81.1px,#00ff96 84.0px,#00ffd3 86.8px,#00fffd 89.6px,#00d3ff 90.8px,#0096ff 92.0px,#005aff 93.2px,#001dff 94.4px,#0000fd 95.6px,#0000f4 96.8px,#0000ec 98.0px,#0000e7 99.2px,#0000e6 100.4px,#0000e6 101.6px);background-position:-22.3px 0}
.r33{top:99px;background:repeating-linear-gradient(90deg,#0000e6 0.0px,#0000e7 2.9px,#0000fe 5.8px,#0075ff 8.7px,#00eaff 11.5px,#00f2ff 14.4px,#00fdff 17.3px,#00fffb 20.2px,#00ffac 23.1px,#b6ff00 26.0px,#fffc00 28.9px,#ffdd00 29.9px,#ffbe00 30.9px,#ff9f00 31.9px,#ff8100 32.9px,#ff7000 33.9px,#ff6500 34.9px,#ff5900 35.9px,#ff4e00 36.9px,#ff4400 37.9px,#ff3a00 38.9px,#ff5800 41.2px,#ff7700 43.4px,#ff9700 45.7px,#ff8b00 47.9px,#ff7300 50.2px,#ff5b00 52.4px,#ff6800 54.7px,#ff8a00 56.9px,#ffbb00 59.2px,#fff500 61.4px,#e2ff00 64.2px,#cdff00 67.0px,#c8ff00 69.8px,#c3ff00 72.6px,#bdff00 75.4px,#b8ff00 78.2px,#b3ff00 81.0px,#00ff8d 83.8px,#00ffcd 86.6px,#00fffa 89.3px,#00d5ff 90.6px,#0097ff 91.8px,#0059ff 93.0px,#001bff 94.2px,#0000fc 95.5px,#0000f3 96.7px,#0000eb 97.9px,#0000e6 99.1px,#0000e6 100.4px,#0000e6 101.6px);background-position:-22.6px 0}
.r34{top:102px;background:repeating-linear-gradient(90deg,#0000e6 0.0px,#0000e6 2.9px,#0000f9 5.8px,#0069ff 8.7px,#00e7ff 11.6px,#00edff 14.5px,#00f3ff 17.4px,#00f9ff 20.3px,#00ffb0 23.2px,#baff00 26.1px,#fff800 29.0px,#ffd900 30.0px,#ffba00 31.1px,#ff9b00 32.1px,#ff7c00 33.2px,#ff6c00 34.2px,#ff6200 35.3px,#ff5900 36.3px,#ff4e00 37.3px,#ff4400 38.4px,#ff3a00 39.4px,#ff5900 41.7px,#ff7800 43.9px,#ff9600 46.1px,#ff8600 48.3px,#ff6d00 50.6px,#ff5500 52.8px,#ff6600 55.0px,#ff8900 57.2px,#ffbb00 59.4px,#fff500 61.7px,#e7ff00 64.4px,#d3ff00 67.1px,#ceff00 69.9px,#c9ff00 72.6px,#c4ff00 75.4px,#beff00 78.1px,#b9ff00 80.8px,#00ff84 83.6px,#00ffc7 86.3px,#00fff7 89.0px,#00d8ff 90.3px,#0098ff 91.6px,#0058ff 92.8px,#0018ff 94.1px,#0000fa 95.3px,#0000f2 96.6px,#0000ea 97.8px,#0000e6 99.1px,#0000e6 100.3px,#0000e6 101.6px);background-position:-23.0px 0}
.r35{top:105px;background:repeating-linear-gradient(90deg,#0000e2 0.0px,#0000e3 2.9px,#0000f6 5.7px,#005eff 8.6px,#00d5ff 11.5px,#00e0ff 14.3px,#00edff 17.2px,#00f9ff 20.1px,#00ffaf 23.0px,#baff00 25.8px,#fff700 28.7px,#ffd700 29.8px,#ffb700 30.9px,#ff9700 32.0px,#ff7900 33.1px,#ff6a00 34.2px,#ff6000 35.3px,#ff5600 36.4px,#ff4c00 37.5px,#ff4200 38.6px,#ff3700 39.7px,#ff5600 41.9px,#ff7300 44.1px,#ff9100 46.3px,#ff8300 48.5px,#ff6a00 50.7px,#ff5300 52.9px,#ff6400 55.1px,#ff8700 57.3px,#ffba00 59.5px,#fff500 61.8px,#e8ff00 64.5px,#d5ff00 67.1px,#cfff00 69.8px,#caff00 72.5px,#c5ff00 75.2px,#c0ff00 77.9px,#b9ff00 80.6px,#00ff81 83.3px,#00ffc5 86.0px,#00fff7 88.7px,#00d6ff 90.0px,#0096ff 91.3px,#0056ff 92.5px,#0016ff 93.8px,#0000f9 95.1px,#0000f1 96.4px,#0000e9 97.7px,#0000e4 99.0px,#0000e3 100.3px,#0000e2 101.6px);background-position:-23.2px 0}
.r36{top:108px;background:repeating-linear-gradient(90deg,#0000df 0.0px,#0000e1 2.8px,#0000f3 5.7px,#0053ff 8.5px,#00c1ff 11.3px,#00d2ff 14.2px,#00e7ff 17.0px,#00fbff 19.8px,#00ffae 22.7px,#b9ff00 25.5px,#fff600 28.3px,#ffd400 29.5px,#ffb200 30.6px,#ff9100 31.8px,#ff7300 32.9px,#ff6400 34.1px,#ff5900 35.2px,#ff4e00 36.4px,#ff4400 37.5px,#ff3900 38.7px,#ff2e00 39.8px,#ff4c00 42.0px,#ff6900 44.2px,#ff8900 46.4px,#ff7e00 48.6px,#ff6600 50.8px,#ff5000 53.0px,#ff6200 55.2px,#ff8500 57.4px,#ffba00 59.6px,#fff500 61.8px,#e9ff00 64.5px,#d5ff00 67.1px,#d0ff00 69.8px,#cbff00 72.4px,#c6ff00 75.1px,#c1ff00 77.7px,#b8ff00 80.3px,#00ff80 83.0px,#00ffc3 85.6px,#00fff8 88.3px,#00d4ff 89.6px,#0094ff 90.9px,#0053ff 92.3px,#0014ff 93.6px,#0000f9 94.9px,#0000f0 96.3px,#0000e7 97.6px,#0000e2 98.9px,#0000e0 100.3px,#0000df 101.6px);background-position:-23.3px 0}
.r37{top:111px;background:repeating-linear-gradient(90deg,#0000db 0.0px,#0000df 2.8px,#0000f0 5.6px,#0048ff 8.4px,#00acff 11.2px,#00c4ff 14.0px,#00e2ff 16.8px,#00fdff 19.6px,#00ffad 22.4px,#b9ff00 25.2px,#fff400 28.0px,#ffd000 29.2px,#ffad00 30.4px,#ff8900 31.6px,#ff6c00 32.8px,#ff5b00 34.0px,#ff4f00 35.2px,#ff4300 36.4px,#ff3800 37.6px,#ff2c00 38.8px,#ff2100 40.0px,#ff3e00 42.2px,#ff5c00 44.4px,#ff7e00 46.6px,#ff7700 48.8px,#ff6100 50.9px,#ff4c00 53.1px,#ff6000 55.3px,#ff8300 57.5px,#ffb900 59.7px,#fff500 61.9px,#e9ff00 64.5px,#d6ff00 67.1px,#d1ff00 69.7px,#ccff00 72.3px,#c7ff00 74.9px,#c2ff00 77.5px,#b7ff00 80.1px,#00ff7f 82.7px,#00ffc2 85.3px,#00fff8 87.9px,#00d2ff 89.3px,#0091ff 90.6px,#0051ff 92.0px,#0011ff 93.4px,#0000f8 94.8px,#0000ef 96.1px,#0000e6 97.5px,#0000e0 98.9px,#0000de 100.2px,#0000db 101.6px);background-position:-23.5px 0}
.r38{top:114px;background:repeating-linear-gradient(90deg,#0000d8 0.0px,#0000dd 2.8px,#0000ee 5.5px,#003dff 8.3px,#0098ff 11.0px,#00b6ff 13.8px,#00dcff 16.6px,#00ffff 19.3px,#00ffab 22.1px,#b8ff00 24.9px,#fff300 27.6px,#ffce00 28.9px,#ffa800 30.1px,#ff8200 31.4px,#ff6600 32.6px,#ff5500 33.9px,#ff4700 35.2px,#ff3a00 36.4px,#ff2e00 37.7px,#ff2200 38.9px,#ff1600 40.2px,#ff3300 42.4px,#ff5100 44.5px,#ff7400 46.7px,#ff7100 48.9px,#ff5d00 51.1px,#ff4900 53.2px,#ff5f00 55.4px,#ff8100 57.6px,#ffb800 59.8px,#fff500 62.0px,#eaff00 64.5px,#d7ff00 67.1px,#d1ff00 69.6px,#ccff00 72.2px,#c8ff00 74.7px,#c3ff00 77.3px,#b6ff00 79.9px,#00ff7d 82.4px,#00ffc1 85.0px,#00fff9 87.5px,#00d0ff 88.9px,#008fff 90.3px,#004fff 91.7px,#000fff 93.2px,#0000f7 94.6px,#0000ed 96.0px,#0000e4 97.4px,#0000de 98.8px,#0000db 100.2px,#0000d8 101.6px);background-position:-23.7px 0}
.r39{top:117px;background:repeating-linear-gradient(90deg,#0000d4 0.0px,#0000da 2.7px,#0000eb 5.5px,#0033ff 8.2px,#0083ff 10.9px,#00a8ff 13.6px,#00d6ff 16.4px,#00fffd 19.1px,#00ffaa 21.8px,#b8ff00 24.5px,#fff300 27.3px,#ffcd00 28.6px,#ffa600 29.9px,#ff7f00 31.2px,#ff6400 32.5px,#ff5300 33.8px,#ff4500 35.1px,#ff3700 36.4px,#ff2b00 37.7px,#ff1e00 39.0px,#ff1300 40.3px,#ff2e00 42.5px,#ff4b00 44.7px,#ff6f00 46.9px,#ff6e00 49.0px,#ff5a00 51.2px,#ff4700 53.4px,#ff5d00 55.5px,#ff7f00 57.7px,#ffb800 59.9px,#fff500 62.0px,#eaff00 64.5px,#d7ff00 67.1px,#d2ff00 69.6px,#cdff00 72.1px,#c8ff00 74.6px,#c4ff00 77.1px,#b5ff00 79.6px,#00ff7c 82.1px,#00ffbf 84.6px,#00fffa 87.1px,#00cdff 88.6px,#008dff 90.0px,#004cff 91.5px,#000dff 92.9px,#0000f6 94.4px,#0000ec 95.8px,#0000e3 97.3px,#0000dc 98.7px,#0000d8 100.2px,#0000d4 101.6px);background-position:-23.8px 0}
.r40{top:120px;background:repeating-linear-gradient(90deg,#0000d1 0.0px,#0000d8 2.7px,#0000e8 5.4px,#0028ff 8.1px,#006fff 10.8px,#009aff 13.5px,#00d0ff 16.1px,#00fffb 18.8px,#00ffa8 21.5px,#b7ff00 24.2px,#fff400 26.9px,#ffcd00 28.3px,#ffa600 29.6px,#ff7f00 31.0px,#ff6600 32.4px,#ff5600 33.7px,#ff4900 35.1px,#ff3c00 36.4px,#ff3000 37.8px,#ff2400 39.2px,#ff1800 40.5px,#ff3200 42.7px,#ff4d00 44.8px,#ff6f00 47.0px,#ff6f00 49.2px,#ff5a00 51.3px,#ff4500 53.5px,#ff5c00 55.6px,#ff7e00 57.8px,#ffb700 59.9px,#fff500 62.1px,#ebff00 64.6px,#d8ff00 67.0px,#d3ff00 69.5px,#ceff00 72.0px,#c9ff00 74.4px,#c5ff00 76.9px,#b4ff00 79.4px,#00ff7a 81.8px,#00ffbe 84.3px,#00fffb 86.8px,#00cbff 88.2px,#008bff 89.7px,#004aff 91.2px,#000bff 92.7px,#0000f6 94.2px,#0000eb 95.7px,#0000e1 97.1px,#0000da 98.6px,#0000d5 100.1px,#0000d1 101.6px);background-position:-24.0px 0}
.r41{top:123px;background:repeating-linear-gradient(90deg,#0000cd 0.0px,#0000d6 2.7px,#0000e5 5.3px,#001dff 8.0px,#005bff 10.6px,#008cff 13.3px,#00cbff 15.9px,#00fff9 18.6px,#00ffa7 21.2px,#b7ff00 23.9px,#fff500 26.6px,#ffce00 28.0px,#ffa700 29.4px,#ff8000 30.8px,#ff6a00 32.2px,#ff5b00 33.6px,#ff4f00 35.0px,#ff4400 36.5px,#ff3900 37.9px,#ff2e00 39.3px,#ff2200 40.7px,#ff3a00 42.8px,#ff5200 45.0px,#ff7100 47.1px,#ff7100 49.3px,#ff5a00 51.4px,#ff4500 53.6px,#ff5b00 55.7px,#ff7c00 57.9px,#ffb700 60.0px,#fff500 62.2px,#ebff00 64.6px,#d9ff00 67.0px,#d4ff00 69.4px,#ceff00 71.9px,#caff00 74.3px,#c6ff00 76.7px,#b4ff00 79.1px,#00ff79 81.5px,#00ffbd 84.0px,#00fffb 86.4px,#00c9ff 87.9px,#0088ff 89.4px,#0048ff 90.9px,#0009ff 92.5px,#0000f5 94.0px,#0000ea 95.5px,#0000e0 97.0px,#0000d8 98.6px,#0000d3 100.1px,#0000cd 101.6px);background-position:-24.2px 0}
.r42{top:126px;background:repeating-linear-gradient(90deg,#0000ca 0.0px,#0000d3 2.6px,#0000e3 5.2px,#0012ff 7.9px,#0046ff 10.5px,#007eff 13.1px,#00c5ff 15.7px,#00fff6 18.3px,#00ffa6 21.0px,#b6ff00 23.6px,#fff600 26.2px,#ffce00 27.7px,#ffa600 29.1px,#ff7f00 30.6px,#ff6b00 32.1px,#ff5f00 33.5px,#ff5400 35.0px,#ff4900 36.5px,#ff3f00 37.9px,#ff3500 39.4px,#ff2900 40.9px,#ff4000 43.0px,#ff5500 45.1px,#ff7200 47.3px,#ff7200 49.4px,#ff5a00 51.6px,#ff4400 53.7px,#ff5b00 55.8px,#ff7b00 58.0px,#ffb700 60.1px,#fff500 62.2px,#ecff00 64.6px,#daff00 67.0px,#d4ff00 69.4px,#cfff00 71.7px,#cbff00 74.1px,#c7ff00 76.5px,#b3ff00 78.9px,#00ff77 81.2px,#00ffbb 83.6px,#00fffc 86.0px,#00c7ff 87.6px,#0086ff 89.1px,#0045ff 90.7px,#0007ff 92.2px,#0000f4 93.8px,#0000e9 95.4px,#0000de 96.9px,#0000d6 98.5px,#0000d0 100.0px,#0000ca 101.6px);background-position:-24.4px 0}
.r43{top:129px;background:repeating-linear-gradient(90deg,#0000c6 0.0px,#0000d1 2.6px,#0000e0 5.2px,#0007ff 7.8px,#0032ff 10.3px,#0070ff 12.9px,#00bfff 15.5px,#00fff4 18.1px,#00ffa4 20.7px,#b6ff00 23.3px,#fff600 25.8px,#ffcd00 27.4px,#ffa400 28.9px,#ff7b00 30.4px,#ff6900 31.9px,#ff5d00 33.4px,#ff5200 35.0px,#ff4700 36.5px,#ff3d00 38.0px,#ff3300 39.5px,#ff2700 41.0px,#ff3d00 43.2px,#ff5000 45.3px,#ff6e00 47.4px,#ff7000 49.5px,#ff5800 51.7px,#ff4200 53.8px,#ff5900 55.9px,#ff7900 58.1px,#ffb600 60.2px,#fff500 62.3px,#ecff00 64.6px,#daff00 67.0px,#d5ff00 69.3px,#d0ff00 71.6px,#ccff00 74.0px,#c8ff00 76.3px,#b2ff00 78.6px,#00ff76 81.0px,#00ffba 83.3px,#00fffd 85.6px,#00c4ff 87.2px,#0084ff 88.8px,#0043ff 90.4px,#0005ff 92.0px,#0000f3 93.6px,#0000e8 95.2px,#0000dd 96.8px,#0000d4 98.4px,#0000cd 100.0px,#0000c6 101.6px);background-position:-24.5px 0}
.r44{top:132px;background:repeating-linear-gradient(90deg,#0000c3 0.0px,#0000cf 2.5px,#0000dd 5.1px,#0000fc 7.6px,#001eff 10.2px,#0062ff 12.7px,#00b9ff 15.3px,#00fff2 17.8px,#00ffa3 20.4px,#b6ff00 22.9px,#fff500 25.5px,#ffca00 27.1px,#ffa000 28.6px,#ff7500 30.2px,#ff6400 31.8px,#ff5600 33.4px,#ff4a00 34.9px,#ff3e00 36.5px,#ff3200 38.1px,#ff2700 39.6px,#ff1b00 41.2px,#ff3000 43.3px,#ff4400 45.4px,#ff6300 47.6px,#ff6900 49.7px,#ff5300 51.8px,#ff3e00 53.9px,#ff5700 56.0px,#ff7700 58.1px,#ffb600 60.3px,#fff500 62.4px,#edff00 64.7px,#dbff00 67.0px,#d6ff00 69.2px,#d0ff00 71.5px,#cdff00 73.8px,#c9ff00 76.1px,#b1ff00 78.4px,#00ff74 80.7px,#00ffb9 83.0px,#00fffe 85.2px,#00c2ff 86.9px,#0081ff 88.5px,#0041ff 90.1px,#0003ff 91.8px,#0000f3 93.4px,#0000e6 95.1px,#0000db 96.7px,#0000d2 98.3px,#0000cb 100.0px,#0000c3 101.6px);background-position:-24.7px 0}
.r45{top:135px;background:repeating-linear-gradient(90deg,#0000bf 0.0px,#0000cc 2.5px,#0000db 5.0px,#0000f1 7.5px,#0009ff 10.1px,#0054ff 12.6px,#00b4ff 15.1px,#00fff0 17.6px,#00ffa1 20.1px,#b5ff00 22.6px,#fff500 25.1px,#ffc800 26.8px,#ff9c00 28.4px,#ff6f00 30.0px,#ff5d00 31.6px,#ff4e00 33.3px,#ff3f00 34.9px,#ff3000 36.5px,#ff2300 38.1px,#ff1600 39.8px,#ff0900 41.4px,#ff1e00 43.5px,#ff3300 45.6px,#ff5500 47.7px,#ff6100 49.8px,#ff4c00 51.9px,#ff3a00 54.0px,#ff5500 56.1px,#ff7500 58.2px,#ffb500 60.3px,#fff500 62.5px,#edff00 64.7px,#dcff00 66.9px,#d6ff00 69.2px,#d1ff00 71.4px,#cdff00 73.7px,#caff00 75.9px,#b0ff00 78.1px,#00ff73 80.4px,#00ffb7 82.6px,#00fffe 84.9px,#00c0ff 86.5px,#007fff 88.2px,#003eff 89.9px,#0001ff 91.6px,#0000f2 93.2px,#0000e5 94.9px,#0000da 96.6px,#0000d1 98.3px,#0000c8 99.9px,#0000bf 101.6px);background-position:-24.9px 0}
.r46{top:138px;background:repeating-linear-gradient(90deg,#0000bc 0.0px,#0000ca 2.5px,#0000d8 5.0px,#0000e9 7.5px,#0000fa 10.0px,#004aff 12.4px,#00afff 14.9px,#00ffef 17.4px,#00ffa1 19.9px,#b5ff00 22.4px,#fff400 24.9px,#ffc700 26.6px,#ff9900 28.2px,#ff6a00 29.9px,#ff5700 31.6px,#ff4600 33.2px,#ff3500 34.9px,#ff2500 36.6px,#ff1600 38.2px,#ff0800 39.9px,#fa0000 41.6px,#ff0f00 43.7px,#ff2400 45.8px,#ff4900 47.9px,#ff5700 50.0px,#ff4700 52.1px,#ff3800 54.2px,#ff5400 56.3px,#ff7400 58.4px,#ffb400 60.5px,#fff500 62.6px,#edff00 64.8px,#dcff00 67.0px,#d6ff00 69.2px,#d1ff00 71.4px,#ceff00 73.6px,#caff00 75.8px,#afff00 78.0px,#00ff72 80.2px,#00ffb6 82.4px,#00ffff 84.6px,#00beff 86.3px,#007dff 88.0px,#003dff 89.7px,#0000fe 91.4px,#0000f1 93.1px,#0000e4 94.8px,#0000d8 96.5px,#0000cf 98.2px,#0000c6 99.9px,#0000bc 101.6px);background-position:-25.1px 0}
.r47{top:141px;background:repeating-linear-gradient(90deg,#0000bc 0.0px,#0000c9 2.5px,#0000d7 5.0px,#0000e7 7.5px,#0000f9 9.9px,#0047ff 12.4px,#00acff 14.9px,#00fff2 17.4px,#00ffa1 19.9px,#b5ff00 22.4px,#fff400 24.9px,#ffc600 26.6px,#ff9800 28.2px,#ff6900 29.9px,#ff5400 31.6px,#ff4100 33.3px,#ff2f00 35.0px,#ff1f00 36.7px,#ff1000 38.4px,#ff0200 40.1px,#f50000 41.8px,#ff0900 43.9px,#ff1e00 46.0px,#ff4100 48.1px,#ff5000 50.3px,#ff4400 52.4px,#ff3a00 54.5px,#ff5600 56.6px,#ff7500 58.7px,#ffb400 60.8px,#fff500 63.0px,#edff00 65.1px,#dbff00 67.3px,#d6ff00 69.4px,#d1ff00 71.6px,#cdff00 73.7px,#caff00 75.9px,#b0ff00 78.0px,#00ff71 80.2px,#00ffb6 82.3px,#00ffff 84.5px,#00bdff 86.2px,#007cff 87.9px,#003bff 89.6px,#0000fe 91.3px,#0000f0 93.0px,#0000e2 94.7px,#0000d7 96.5px,#0000ce 98.2px,#0000c5 99.9px,#0000bc 101.6px);background-position:-25.5px 0}
.r48{top:144px;background:repeating-linear-gradient(90deg,#0000bb 0.0px,#0000c8 2.5px,#0000d6 5.0px,#0000e5 7.4px,#0000f8 9.9px,#0044ff 12.4px,#00a9ff 14.9px,#00fff5 17.4px,#00ffa2 19.9px,#b5ff00 22.3px,#fff500 24.8px,#ffc600 26.6px,#ff9800 28.3px,#ff6a00 30.0px,#ff5500 31.7px,#ff4100 33.4px,#ff3100 35.1px,#ff2200 36.9px,#ff1500 38.6px,#ff0800 40.3px,#fc0000 42.0px,#ff0e00 44.1px,#ff2100 46.3px,#ff4000 48.4px,#ff4d00 50.5px,#ff4300 52.7px,#ff3f00 54.8px,#ff5900 56.9px,#ff7700 59.0px,#ffb400 61.2px,#fff500 63.3px,#edff00 65.4px,#daff00 67.5px,#d5ff00 69.6px,#d0ff00 71.7px,#cdff00 73.8px,#c9ff00 75.9px,#b1ff00 78.1px,#00ff70 80.2px,#00ffb5 82.3px,#00ffff 84.4px,#00bdff 86.1px,#007bff 87.8px,#003aff 89.5px,#0000fd 91.3px,#0000ef 93.0px,#0000e1 94.7px,#0000d6 96.4px,#0000cd 98.2px,#0000c4 99.9px,#0000bb 101.6px);background-position:-25.9px 0}
.r49{top:147px;background:repeating-linear-gradient(90deg,#0000ba 0.0px,#0000c7 2.5px,#0000d4 5.0px,#0000e3 7.4px,#0000f7 9.9px,#0041ff 12.4px,#00a6ff 14.9px,#00fff8 17.4px,#00ffa2 19.8px,#b6ff00 22.3px,#fff500 24.8px,#ffc700 26.5px,#ff9800 28.3px,#ff6b00 30.0px,#ff5600 31.8px,#ff4300 33.5px,#ff3500 35.3px,#ff2900 37.0px,#ff1f00 38.8px,#ff1400 40.5px,#ff0900 42.2px,#ff1a00 44.4px,#ff2900 46.5px,#ff4300 48.7px,#ff4d00 50.8px,#ff4500 52.9px,#ff4400 55.1px,#ff5d00 57.2px,#ff7800 59.4px,#ffb400 61.5px,#fff500 63.6px,#edff00 65.7px,#daff00 67.8px,#d5ff00 69.8px,#d0ff00 71.9px,#ccff00 74.0px,#c9ff00 76.0px,#b2ff00 78.1px,#00ff6f 80.2px,#00ffb5 82.2px,#00ffff 84.3px,#00bcff 86.0px,#0079ff 87.7px,#0039ff 89.5px,#0000fd 91.2px,#0000ee 92.9px,#0000e0 94.7px,#0000d5 96.4px,#0000cc 98.1px,#0000c3 99.9px,#0000ba 101.6px);background-position:-26.3px 0}
.r50{top:150px;background:repeating-linear-gradient(90deg,#0000ba 0.0px,#0000c6 2.5px,#0000d3 5.0px,#0000e2 7.4px,#0000f6 9.9px,#003dff 12.4px,#00a3ff 14.9px,#00fffb 17.3px,#00ffa3 19.8px,#b6ff00 22.3px,#fff500 24.8px,#ffc700 26.5px,#ff9800 28.3px,#ff6c00 30.1px,#ff5600 31.9px,#ff4300 33.6px,#ff3600 35.4px,#ff2d00 37.2px,#ff2500 38.9px,#ff1c00 40.7px,#ff1200 42.5px,#ff2100 44.6px,#ff2d00 46.8px,#ff4300 48.9px,#ff4a00 51.1px,#ff4500 53.2px,#ff4800 55.4px,#ff6000 57.5px,#ff7a00 59.7px,#ffb400 61.8px,#fff500 64.0px,#ecff00 66.0px,#d9ff00 68.0px,#d4ff00 70.0px,#cfff00 72.1px,#ccff00 74.1px,#c8ff00 76.1px,#b3ff00 78.1px,#00ff6f 80.1px,#00ffb4 82.2px,#00ffff 84.2px,#00bbff 85.9px,#0078ff 87.7px,#0038ff 89.4px,#0000fd 91.2px,#0000ed 92.9px,#0000de 94.6px,#0000d4 96.4px,#0000cb 98.1px,#0000c2 99.9px,#0000ba 101.6px);background-position:-26.8px 0}
.r51{top:153px;background:repeating-linear-gradient(90deg,#0000b9 0.0px,#0000c5 2.5px,#0000d2 4.9px,#0000e0 7.4px,#0000f5 9.9px,#003aff 12.4px,#00a0ff 14.8px,#00fffd 17.3px,#00ffa3 19.8px,#b6ff00 22.3px,#fff500 24.7px,#ffc600 26.5px,#ff9700 28.3px,#ff6b00 30.1px,#ff5300 31.9px,#ff3e00 33.7px,#ff3100 35.5px,#ff2800 37.3px,#ff2000 39.1px,#ff1800 40.9px,#ff0e00 42.7px,#ff1c00 44.9px,#ff2800 47.0px,#ff3c00 49.2px,#ff4300 51.3px,#ff4200 53.5px,#ff4b00 55.7px,#ff6300 57.8px,#ff7b00 60.0px,#ffb400 62.1px,#fff500 64.3px,#ecff00 66.3px,#d8ff00 68.3px,#d3ff00 70.2px,#cfff00 72.2px,#ccff00 74.2px,#c8ff00 76.2px,#b3ff00 78.2px,#00ff6e 80.1px,#00ffb3 82.1px,#00ffff 84.1px,#00baff 85.8px,#0077ff 87.6px,#0037ff 89.3px,#0000fc 91.1px,#0000ec 92.8px,#0000dd 94.6px,#0000d3 96.3px,#0000ca 98.1px,#0000c1 99.8px,#0000b9 101.6px);background-position:-27.2px 0}
.r52{top:156px;background:repeating-linear-gradient(90deg,#0000b8 0.0px,#0000c4 2.5px,#0000d0 4.9px,#0000de 7.4px,#0000f4 9.9px,#0037ff 12.4px,#009dff 14.8px,#00feff 17.3px,#00ffa4 19.8px,#b6ff00 22.2px,#fff500 24.7px,#ffc500 26.5px,#ff9500 28.4px,#ff6700 30.2px,#ff4d00 32.0px,#ff3400 33.8px,#ff2500 35.6px,#ff1a00 37.5px,#ff1000 39.3px,#ff0700 41.1px,#fc0000 42.9px,#ff0b00 45.1px,#ff1800 47.3px,#ff2d00 49.4px,#ff3700 51.6px,#ff3c00 53.8px,#ff4c00 56.0px,#ff6400 58.1px,#ff7c00 60.3px,#ffb300 62.5px,#fff500 64.6px,#ecff00 66.6px,#d7ff00 68.5px,#d3ff00 70.5px,#cfff00 72.4px,#cbff00 74.3px,#c8ff00 76.3px,#b4ff00 78.2px,#00ff6d 80.1px,#00ffb3 82.1px,#00ffff 84.0px,#00b9ff 85.8px,#0076ff 87.5px,#0036ff 89.3px,#0000fc 91.0px,#0000eb 92.8px,#0000db 94.6px,#0000d1 96.3px,#0000c9 98.1px,#0000c0 99.8px,#0000b8 101.6px);background-position:-27.6px 0}
.r53{top:159px;background:repeating-linear-gradient(90deg,#0000b7 0.0px,#0000c3 2.5px,#0000cf 4.9px,#0000dc 7.4px,#0000f3 9.9px,#0034ff 12.3px,#009bff 14.8px,#00fcff 17.3px,#00ffa5 19.8px,#b7ff00 22.2px,#fff500 24.7px,#ffc400 26.5px,#ff9300 28.4px,#ff6400 30.2px,#ff4500 32.1px,#ff2800 33.9px,#ff1600 35.8px,#ff0700 37.6px,#fa0000 39.5px,#ef0000 41.3px,#e40000 43.1px,#f20000 45.3px,#ff0300 47.5px,#ff1a00 49.7px,#ff2800 51.9px,#ff3400 54.1px,#ff4c00 56.2px,#ff6600 58.4px,#ff7c00 60.6px,#ffb300 62.8px,#fff500 65.0px,#ebff00 66.9px,#d6ff00 68.8px,#d2ff00 70.7px,#ceff00 72.6px,#cbff00 74.5px,#c7ff00 76.3px,#b5ff00 78.2px,#00ff6d 80.1px,#00ffb2 82.0px,#00ffff 83.9px,#00b9ff 85.7px,#0074ff 87.4px,#0035ff 89.2px,#0000fb 91.0px,#0000ea 92.8px,#0000da 94.5px,#0000d0 96.3px,#0000c8 98.1px,#0000c0 99.8px,#0000b7 101.6px);background-position:-28.0px 0}
.r54{top:162px;background:repeating-linear-gradient(90deg,#0000b7 0.0px,#0000c2 2.5px,#0000ce 4.9px,#0000da 7.4px,#0000f2 9.9px,#0031ff 12.3px,#0098ff 14.8px,#00f9ff 17.3px,#00ffa5 19.7px,#b7ff00 22.2px,#fff400 24.7px,#ffc300 26.5px,#ff9100 28.4px,#ff6100 30.3px,#ff3f00 32.1px,#ff1e00 34.0px,#ff0900 35.9px,#f70000 37.8px,#e90000 39.6px,#dc0000 41.5px,#d10000 43.4px,#e00000 45.6px,#f00000 47.8px,#ff0a00 50.0px,#ff1b00 52.2px,#ff2e00 54.3px,#ff4d00 56.5px,#ff6700 58.7px,#ff7d00 60.9px,#ffb300 63.1px,#fff500 65.3px,#ebff00 67.2px,#d6ff00 69.0px,#d2ff00 70.9px,#ceff00 72.7px,#caff00 74.6px,#c7ff00 76.4px,#b6ff00 78.3px,#00ff6c 80.1px,#00ffb2 82.0px,#00ffff 83.8px,#00b8ff 85.6px,#0073ff 87.4px,#0033ff 89.2px,#0000fb 90.9px,#0000e9 92.7px,#0000d8 94.5px,#0000cf 96.3px,#0000c7 98.0px,#0000bf 99.8px,#0000b7 101.6px);background-position:-28.4px 0}
.r55{top:165px;background:repeating-linear-gradient(90deg,#0000b6 0.0px,#0000c1 2.5px,#0000cd 4.9px,#0000d9 7.4px,#0000f0 9.9px,#002eff 12.3px,#0095ff 14.8px,#00f7ff 17.2px,#00ffa6 19.7px,#b7ff00 22.2px,#fff500 24.6px,#ffc200 26.5px,#ff9000 28.4px,#ff5f00 30.3px,#ff3c00 32.2px,#ff1900 34.1px,#ff0300 36.0px,#f20000 37.9px,#e30000 39.8px,#d60000 41.7px,#cc0000 43.6px,#da0000 45.8px,#ea0000 48.0px,#ff0300 50.2px,#ff1300 52.4px,#ff2b00 54.6px,#ff5000 56.8px,#ff6a00 59.0px,#ff7e00 61.3px,#ffb200 63.5px,#fff500 65.7px,#ebff00 67.5px,#d5ff00 69.3px,#d1ff00 71.1px,#cdff00 72.9px,#caff00 74.7px,#c6ff00 76.5px,#b6ff00 78.3px,#00ff6b 80.1px,#00ffb1 81.9px,#00ffff 83.7px,#00b7ff 85.5px,#0072ff 87.3px,#0032ff 89.1px,#0000fb 90.9px,#0000e8 92.7px,#0000d7 94.4px,#0000ce 96.2px,#0000c6 98.0px,#0000be 99.8px,#0000b6 101.6px);background-position:-28.8px 0}
.r56{top:168px;background:repeating-linear-gradient(90deg,#0000b5 0.0px,#0000c0 2.5px,#0000cb 4.9px,#0000d7 7.4px,#0000ef 9.8px,#002bff 12.3px,#0092ff 14.8px,#00f5ff 17.2px,#00ffa6 19.7px,#b7ff00 22.1px,#fff500 24.6px,#ffc200 26.5px,#ff9000 28.4px,#ff6000 30.4px,#ff3c00 32.3px,#ff1900 34.2px,#ff0500 36.1px,#f60000 38.0px,#ea0000 40.0px,#e00000 41.9px,#d60000 43.8px,#e20000 46.0px,#f00000 48.3px,#ff0400 50.5px,#ff1100 52.7px,#ff2b00 54.9px,#ff5400 57.1px,#ff6d00 59.3px,#ff8000 61.6px,#ffb200 63.8px,#fff500 66.0px,#ebff00 67.8px,#d4ff00 69.5px,#d0ff00 71.3px,#cdff00 73.1px,#c9ff00 74.8px,#c6ff00 76.6px,#b7ff00 78.3px,#00ff6a 80.1px,#00ffb1 81.9px,#00ffff 83.6px,#00b6ff 85.4px,#0071ff 87.2px,#0031ff 89.0px,#0000fa 90.8px,#0000e7 92.6px,#0000d5 94.4px,#0000cd 96.2px,#0000c5 98.0px,#0000bd 99.8px,#0000b5 101.6px);background-position:-29.2px 0}
.r57{top:171px;background:repeating-linear-gradient(90deg,#0000b4 0.0px,#0000bf 2.5px,#0000ca 4.9px,#0000d5 7.4px,#0000ee 9.8px,#0028ff 12.3px,#008fff 14.7px,#00f2ff 17.2px,#00ffa7 19.7px,#b8ff00 22.1px,#fff500 24.6px,#ffc200 26.5px,#ff9000 28.5px,#ff6100 30.4px,#ff3d00 32.4px,#ff1b00 34.3px,#ff0a00 36.3px,#ff0100 38.2px,#f70000 40.1px,#f00000 42.1px,#e70000 44.0px,#f20000 46.3px,#fb0000 48.5px,#ff0900 50.7px,#ff1200 53.0px,#ff2d00 55.2px,#ff5a00 57.4px,#ff7100 59.7px,#ff8100 61.9px,#ffb200 64.1px,#fff500 66.3px,#eaff00 68.1px,#d3ff00 69.8px,#d0ff00 71.5px,#ccff00 73.2px,#c9ff00 74.9px,#c5ff00 76.7px,#b8ff00 78.4px,#00ff6a 80.1px,#00ffb0 81.8px,#00ffff 83.5px,#00b6ff 85.3px,#006fff 87.1px,#0030ff 89.0px,#0000fa 90.8px,#0000e6 92.6px,#0000d4 94.4px,#0000cc 96.2px,#0000c4 98.0px,#0000bc 99.8px,#0000b4 101.6px);background-position:-29.6px 0}
.r58{top:174px;background:repeating-linear-gradient(90deg,#0000b4 0.0px,#0000be 2.5px,#0000c9 4.9px,#0000d3 7.4px,#0000ed 9.8px,#0025ff 12.3px,#008cff 14.7px,#00f0ff 17.2px,#00ffa7 19.6px,#b8ff00 22.1px,#fff500 24.5px,#ffc200 26.5px,#ff8f00 28.5px,#ff6100 30.5px,#ff3d00 32.4px,#ff1b00 34.4px,#ff0c00 36.4px,#ff0600 38.3px,#ff0100 40.3px,#fa0000 42.3px,#f30000 44.3px,#fc0000 46.5px,#ff0300 48.7px,#ff0a00 51.0px,#ff1000 53.2px,#ff2d00 55.5px,#ff5e00 57.7px,#ff7400 60.0px,#ff8300 62.2px,#ffb200 64.4px,#fff500 66.7px,#eaff00 68.4px,#d3ff00 70.0px,#cfff00 71.7px,#ccff00 73.4px,#c8ff00 75.1px,#c5ff00 76.7px,#b9ff00 78.4px,#00ff69 80.1px,#00ffb0 81.8px,#00ffff 83.4px,#00b5ff 85.3px,#006eff 87.1px,#002fff 88.9px,#0000fa 90.7px,#0000e5 92.5px,#0000d3 94.3px,#0000cb 96.2px,#0000c3 98.0px,#0000bb 99.8px,#0000b4 101.6px);background-position:-30.0px 0}
.r59{top:177px;background:repeating-linear-gradient(90deg,#0000b3 0.0px,#0000bd 2.5px,#0000c7 4.9px,#0000d1 7.4px,#0000ec 9.8px,#0021ff 12.3px,#0089ff 14.7px,#00eeff 17.2px,#00ffa8 19.6px,#b8ff00 22.1px,#fff500 24.5px,#ffc100 26.5px,#ff8e00 28.5px,#ff6000 30.5px,#ff3a00 32.5px,#ff1600 34.5px,#ff0700 36.5px,#ff0100 38.5px,#fb0000 40.5px,#f60000 42.5px,#ef0000 44.5px,#f70000 46.7px,#fc0000 49.0px,#ff0300 51.2px,#ff0900 53.5px,#ff2a00 55.8px,#ff6100 58.0px,#ff7600 60.3px,#ff8400 62.5px,#ffb200 64.8px,#fff500 67.0px,#eaff00 68.7px,#d2ff00 70.3px,#cfff00 71.9px,#cbff00 73.6px,#c8ff00 75.2px,#c5ff00 76.8px,#baff00 78.5px,#00ff68 80.1px,#00ffaf 81.7px,#00ffff 83.3px,#00b4ff 85.2px,#006dff 87.0px,#002eff 88.8px,#0000f9 90.6px,#0000e5 92.5px,#0000d1 94.3px,#0000c9 96.1px,#0000c2 97.9px,#0000ba 99.8px,#0000b3 101.6px);background-position:-30.4px 0}
.r60{top:180px;background:repeating-linear-gradient(90deg,#0000b3 0.0px,#0000bd 2.5px,#0000c7 4.9px,#0000d1 7.4px,#0000ec 9.9px,#0021ff 12.3px,#0089ff 14.8px,#00eeff 17.2px,#00ffa7 19.7px,#b9ff00 22.2px,#fff500 24.6px,#ffc000 26.6px,#ff8b00 28.6px,#ff5a00 30.6px,#ff3300 32.6px,#ff0d00 34.6px,#fb0000 36.7px,#f20000 38.7px,#eb0000 40.7px,#e40000 42.7px,#dc0000 44.7px,#e50000 46.9px,#ec0000 49.2px,#f50000 51.5px,#fe0000 53.8px,#ff2300 56.0px,#ff5d00 58.3px,#ff7500 60.6px,#ff8400 62.9px,#ffb200 65.1px,#fff500 67.4px,#eaff00 69.0px,#d2ff00 70.6px,#ceff00 72.2px,#c9ff00 73.8px,#c5ff00 75.3px,#c1ff00 76.9px,#b6ff00 78.5px,#00ff6d 80.1px,#00ffb1 81.7px,#00ffff 83.2px,#00b4ff 85.1px,#006dff 86.9px,#002dff 88.7px,#0000f9 90.6px,#0000e4 92.4px,#0000d1 94.3px,#0000c9 96.1px,#0000c2 97.9px,#0000ba 99.8px,#0000b3 101.6px);background-position:-30.9px 0}
.r61{top:183px;background:repeating-linear-gradient(90deg,#0000b3 0.0px,#0000bd 2.5px,#0000c7 5.0px,#0000d2 7.5px,#0000ed 10.0px,#0025ff 12.4px,#008dff 14.9px,#00f1ff 17.4px,#00ffa5 19.9px,#b9ff00 22.4px,#fff500 24.9px,#ffbd00 26.9px,#ff8500 28.9px,#ff5100 30.9px,#ff2900 32.9px,#ff0400 34.9px,#f00000 36.8px,#e30000 38.8px,#d70000 40.8px,#cd0000 42.8px,#c40000 44.8px,#ce0000 47.1px,#da0000 49.4px,#e70000 51.7px,#f50000 54.1px,#ff1a00 56.4px,#ff5300 58.7px,#ff6f00 61.0px,#ff8400 63.3px,#ffb300 65.6px,#fff500 67.9px,#ebff00 69.4px,#d3ff00 70.9px,#cdff00 72.5px,#c7ff00 74.0px,#c0ff00 75.5px,#baff00 77.0px,#aeff00 78.6px,#00ff76 80.1px,#00ffb7 81.6px,#00ffff 83.1px,#00b5ff 85.0px,#006eff 86.8px,#002eff 88.7px,#0000f9 90.5px,#0000e5 92.4px,#0000d1 94.2px,#0000c9 96.1px,#0000c2 97.9px,#0000ba 99.8px,#0000b3 101.6px);background-position:-31.5px 0}
.r62{top:186px;background:repeating-linear-gradient(90deg,#0000b3 0.0px,#0000bd 2.5px,#0000c8 5.0px,#0000d4 7.5px,#0000ee 10.1px,#0028ff 12.6px,#0090ff 15.1px,#00f5ff 17.6px,#00ffa3 20.1px,#baff00 22.6px,#fff500 25.1px,#ffba00 27.1px,#ff8000 29.1px,#ff4900 31.1px,#ff2000 33.1px,#fc0000 35.1px,#e70000 37.0px,#d70000 39.0px,#c80000 41.0px,#bc0000 43.0px,#b20000 45.0px,#be0000 47.3px,#cc0000 49.7px,#dd0000 52.0px,#ee0000 54.3px,#ff1300 56.7px,#ff4a00 59.0px,#ff6a00 61.3px,#ff8400 63.7px,#ffb400 66.0px,#fff500 68.4px,#ecff00 69.8px,#d4ff00 71.3px,#ccff00 72.8px,#c4ff00 74.2px,#bbff00 75.7px,#b3ff00 77.1px,#a6ff00 78.6px,#00ff80 80.1px,#00ffbc 81.5px,#00ffff 83.0px,#00b6ff 84.9px,#006fff 86.7px,#002fff 88.6px,#0000fa 90.4px,#0000e5 92.3px,#0000d2 94.2px,#0000ca 96.0px,#0000c2 97.9px,#0000ba 99.7px,#0000b3 101.6px);background-position:-32.1px 0}
.r63{top:189px;background:repeating-linear-gradient(90deg,#0000b3 0.0px,#0000bd 2.5px,#0000c8 5.1px,#0000d5 7.6px,#0000ef 10.2px,#002bff 12.7px,#0093ff 15.2px,#00f8ff 17.8px,#00ffa1 20.3px,#baff00 22.9px,#fff500 25.4px,#ffb800 27.4px,#ff7c00 29.3px,#ff4300 31.3px,#ff1a00 33.3px,#f90000 35.3px,#e60000 37.2px,#d60000 39.2px,#c70000 41.2px,#bb0000 43.2px,#b10000 45.1px,#bd0000 47.5px,#cc0000 49.9px,#dd0000 52.2px,#ed0000 54.6px,#ff0f00 57.0px,#ff4300 59.3px,#ff6600 61.7px,#ff8400 64.1px,#ffb500 66.5px,#fff500 68.8px,#edff00 70.2px,#d5ff00 71.6px,#cbff00 73.0px,#c1ff00 74.4px,#b6ff00 75.9px,#acff00 77.3px,#9eff00 78.7px,#00ff8a 80.1px,#00ffc1 81.5px,#00ffff 82.9px,#00b7ff 84.8px,#0070ff 86.6px,#0030ff 88.5px,#0000fa 90.4px,#0000e6 92.2px,#0000d3 94.1px,#0000ca 96.0px,#0000c2 97.9px,#0000ba 99.7px,#0000b3 101.6px);background-position:-32.6px 0}
.r64{top:192px;background:repeating-linear-gradient(90deg,#0000b3 0.0px,#0000be 2.6px,#0000c8 5.1px,#0000d6 7.7px,#0000f0 10.3px,#002eff 12.8px,#0097ff 15.4px,#00fbff 18.0px,#00ff9f 20.5px,#bbff00 23.1px,#fff500 25.7px,#ffb600 27.6px,#ff7800 29.6px,#ff3d00 31.5px,#ff1700 33.5px,#fc0000 35.5px,#ec0000 37.4px,#e00000 39.4px,#d40000 41.4px,#ca0000 43.3px,#c00000 45.3px,#cb0000 47.7px,#d80000 50.1px,#e50000 52.5px,#f20000 54.9px,#ff0e00 57.3px,#ff3d00 59.7px,#ff6200 62.1px,#ff8400 64.5px,#ffb700 66.9px,#fff500 69.3px,#edff00 70.6px,#d6ff00 72.0px,#caff00 73.3px,#beff00 74.7px,#b1ff00 76.0px,#a5ff00 77.4px,#00ff6a 78.7px,#00ff93 80.1px,#00ffc7 81.4px,#00ffff 82.8px,#00b7ff 84.6px,#0072ff 86.5px,#0030ff 88.4px,#0000fa 90.3px,#0000e6 92.2px,#0000d4 94.1px,#0000ca 95.9px,#0000c2 97.8px,#0000ba 99.7px,#0000b3 101.6px);background-position:-33.2px 0}
.r65{top:195px;background:repeating-linear-gradient(90deg,#0000b3 0.0px,#0000be 2.6px,#0000c9 5.2px,#0000d7 7.8px,#0000f1 10.4px,#0031ff 13.0px,#009aff 15.6px,#00ffff 18.1px,#00ff9d 20.7px,#bcff00 23.3px,#fff500 25.9px,#ffb400 27.9px,#ff7500 29.8px,#ff3900 31.8px,#ff1500 33.7px,#ff0100 35.7px,#f60000 37.6px,#ef0000 39.6px,#e70000 41.5px,#df0000 43.5px,#d70000 45.4px,#e00000 47.9px,#e90000 50.3px,#f10000 52.7px,#f80000 55.2px,#ff0d00 57.6px,#ff3700 60.0px,#ff5f00 62.5px,#ff8400 64.9px,#ffb800 67.3px,#fff500 69.8px,#eeff00 71.0px,#d7ff00 72.3px,#c9ff00 73.6px,#bbff00 74.9px,#adff00 76.2px,#9fff00 77.5px,#00ff76 78.8px,#00ff9d 80.1px,#00ffcc 81.4px,#00ffff 82.6px,#00b8ff 84.5px,#0073ff 86.4px,#0031ff 88.3px,#0000fa 90.2px,#0000e7 92.1px,#0000d4 94.0px,#0000ca 95.9px,#0000c2 97.8px,#0000ba 99.7px,#0000b3 101.6px);background-position:-33.8px 0}
.r66{top:198px;background:repeating-linear-gradient(90deg,#0000b3 0.0px,#0000be 2.6px,#0000c9 5.2px,#0000d8 7.9px,#0000f2 10.5px,#0034ff 13.1px,#009dff 15.7px,#00fffb 18.3px,#00ff9b 20.9px,#bcff00 23.6px,#fff500 26.2px,#ffb300 28.1px,#ff7100 30.1px,#ff3400 32.0px,#ff1200 33.9px,#ff0400 35.9px,#fd0000 37.8px,#f90000 39.8px,#f40000 41.7px,#ee0000 43.6px,#e60000 45.6px,#ef0000 48.0px,#f40000 50.5px,#f80000 53.0px,#fc0000 55.4px,#ff0c00 57.9px,#ff3100 60.4px,#ff5b00 62.8px,#ff8400 65.3px,#ffb900 67.8px,#fff500 70.2px,#efff00 71.5px,#d9ff00 72.7px,#c8ff00 73.9px,#b8ff00 75.1px,#a8ff00 76.4px,#00ff68 77.6px,#00ff82 78.8px,#00ffa7 80.1px,#00ffd2 81.3px,#00ffff 82.5px,#00b9ff 84.4px,#0074ff 86.3px,#0032ff 88.2px,#0000fa 90.2px,#0000e7 92.1px,#0000d5 94.0px,#0000cb 95.9px,#0000c3 97.8px,#0000ba 99.7px,#0000b3 101.6px);background-position:-34.4px 0}
.r67{top:201px;background:repeating-linear-gradient(90deg,#0000b3 0.0px,#0000be 2.6px,#0000ca 5.3px,#0000da 7.9px,#0000f3 10.6px,#0037ff 13.2px,#00a1ff 15.9px,#00fff7 18.5px,#00ff99 21.2px,#bdff00 23.8px,#fff500 26.4px,#ffb000 28.4px,#ff6d00 30.3px,#ff2e00 32.2px,#ff0c00 34.2px,#ff0200 36.1px,#fc0000 38.0px,#f80000 39.9px,#f30000 41.9px,#ed0000 43.8px,#e50000 45.7px,#ee0000 48.2px,#f30000 50.7px,#f70000 53.2px,#fb0000 55.7px,#ff0700 58.2px,#ff2900 60.7px,#ff5600 63.2px,#ff8400 65.7px,#ffba00 68.2px,#fff500 70.7px,#f0ff00 71.9px,#daff00 73.0px,#c7ff00 74.2px,#b5ff00 75.4px,#a3ff00 76.5px,#00ff72 77.7px,#00ff8e 78.9px,#00ffb1 80.1px,#00ffd7 81.2px,#00ffff 82.4px,#00baff 84.3px,#0075ff 86.2px,#0032ff 88.2px,#0000fa 90.1px,#0000e8 92.0px,#0000d6 93.9px,#0000cb 95.8px,#0000c3 97.8px,#0000ba 99.7px,#0000b3 101.6px);background-position:-35.0px 0}
.r68{top:204px;background:repeating-linear-gradient(90deg,#0000b3 0.0px,#0000bf 2.7px,#0000ca 5.3px,#0000db 8.0px,#0000f4 10.7px,#003aff 13.4px,#00a4ff 16.0px,#00fff4 18.7px,#00ff97 21.4px,#beff00 24.0px,#fff500 26.7px,#ffae00 28.6px,#ff6700 30.5px,#ff2500 32.5px,#ff0300 34.4px,#f90000 36.3px,#f20000 38.2px,#ec0000 40.1px,#e50000 42.1px,#dd0000 44.0px,#d30000 45.9px,#de0000 48.4px,#e60000 50.9px,#ee0000 53.5px,#f50000 56.0px,#ff0000 58.5px,#ff2100 61.0px,#ff5100 63.6px,#ff8400 66.1px,#ffbb00 68.6px,#fff500 71.2px,#f1ff00 72.3px,#dbff00 73.4px,#c6ff00 74.5px,#b2ff00 75.6px,#9eff00 76.7px,#00ff7d 77.8px,#00ff9a 78.9px,#00ffba 80.1px,#00ffdc 81.2px,#00ffff 82.3px,#00bbff 84.2px,#0077ff 86.2px,#0033ff 88.1px,#0000fb 90.0px,#0000e9 91.9px,#0000d7 93.9px,#0000cb 95.8px,#0000c3 97.7px,#0000ba 99.7px,#0000b3 101.6px);background-position:-35.6px 0}
.r69{top:207px;background:repeating-linear-gradient(90deg,#0000b3 0.0px,#0000bf 2.7px,#0000ca 5.4px,#0000dc 8.1px,#0000f4 10.8px,#003bff 13.5px,#00a5ff 16.2px,#00fff2 18.8px,#00ff97 21.5px,#bdff00 24.2px,#fff500 26.9px,#ffab00 28.8px,#ff6300 30.8px,#ff1e00 32.7px,#f90000 34.6px,#ef0000 36.5px,#e60000 38.4px,#dc0000 40.4px,#d00000 42.3px,#c50000 44.2px,#bb0000 46.1px,#c70000 48.6px,#d40000 51.2px,#e10000 53.7px,#ed0000 56.3px,#f80000 58.8px,#ff1900 61.4px,#ff4d00 63.9px,#ff8300 66.4px,#ffbc00 69.0px,#fff500 71.5px,#f1ff00 72.6px,#dbff00 73.7px,#c6ff00 74.7px,#b0ff00 75.8px,#9aff00 76.9px,#00ff85 77.9px,#00ffa3 79.0px,#00ffc2 80.1px,#00ffe0 81.1px,#00ffff 82.2px,#00bbff 84.1px,#0077ff 86.1px,#0033ff 88.0px,#0000fb 90.0px,#0000e9 91.9px,#0000d7 93.8px,#0000cb 95.8px,#0000c3 97.7px,#0000bb 99.7px,#0000b3 101.6px);background-position:-36.2px 0}
.r70{top:210px;background:repeating-linear-gradient(90deg,#0000b3 0.0px,#0000be 2.7px,#0000ca 5.4px,#0000db 8.1px,#0000f3 10.8px,#0036ff 13.5px,#009eff 16.2px,#00fffa 18.9px,#00ff9d 21.6px,#bbff00 24.3px,#fff500 27.0px,#ffab00 29.0px,#ff6200 30.9px,#ff1c00 32.9px,#f50000 34.8px,#e90000 36.8px,#dd0000 38.7px,#cf0000 40.7px,#c00000 42.6px,#b30000 44.6px,#a80000 46.5px,#b50000 49.0px,#c50000 51.6px,#d60000 54.1px,#e60000 56.6px,#f40000 59.1px,#ff1500 61.6px,#ff4900 64.1px,#ff8000 66.6px,#ffba00 69.1px,#fff500 71.6px,#f1ff00 72.7px,#dbff00 73.7px,#c5ff00 74.8px,#afff00 75.8px,#00ff66 76.9px,#00ff86 77.9px,#00ffa4 79.0px,#00ffc2 80.0px,#00ffe1 81.1px,#00ffff 82.1px,#00baff 84.1px,#0075ff 86.0px,#0030ff 88.0px,#0000fa 89.9px,#0000e8 91.9px,#0000d6 93.8px,#0000cb 95.8px,#0000c3 97.7px,#0000ba 99.7px,#0000b3 101.6px);background-position:-36.8px 0}
.r71{top:213px;background:repeating-linear-gradient(90deg,#0000b3 0.0px,#0000be 2.7px,#0000c9 5.4px,#0000da 8.1px,#0000f2 10.9px,#0030ff 13.6px,#0098ff 16.3px,#00fdff 19.0px,#00ffa2 21.7px,#b8ff00 24.4px,#fff500 27.2px,#ffab00 29.1px,#ff6200 31.1px,#ff1d00 33.1px,#f50000 35.1px,#e90000 37.1px,#db0000 39.0px,#cd0000 41.0px,#be0000 43.0px,#b10000 45.0px,#a70000 47.0px,#b30000 49.4px,#c20000 51.9px,#d30000 54.4px,#e30000 56.9px,#f20000 59.3px,#ff1200 61.8px,#ff4600 64.3px,#ff7d00 66.7px,#ffb800 69.2px,#fff500 71.7px,#f1ff00 72.7px,#dbff00 73.8px,#c4ff00 74.8px,#aeff00 75.8px,#00ff68 76.9px,#00ff87 77.9px,#00ffa5 78.9px,#00ffc3 80.0px,#00ffe1 81.0px,#00ffff 82.1px,#00b9ff 84.0px,#0073ff 86.0px,#002dff 87.9px,#0000f9 89.9px,#0000e7 91.8px,#0000d5 93.8px,#0000ca 95.7px,#0000c2 97.7px,#0000ba 99.6px,#0000b3 101.6px);background-position:-37.4px 0}
.r72{top:216px;background:repeating-linear-gradient(90deg,#0000b3 0.0px,#0000be 2.7px,#0000c9 5.5px,#0000d9 8.2px,#0000f1 10.9px,#002bff 13.6px,#0091ff 16.4px,#00f7ff 19.1px,#00ffa7 21.8px,#b5ff00 24.5px,#fff500 27.3px,#ffac00 29.3px,#ff6300 31.3px,#ff1f00 33.3px,#f80000 35.3px,#ed0000 37.3px,#e10000 39.4px,#d50000 41.4px,#ca0000 43.4px,#bf0000 45.4px,#b50000 47.4px,#c00000 49.8px,#cc0000 52.3px,#d80000 54.7px,#e50000 57.1px,#f30000 59.6px,#ff1100 62.0px,#ff4300 64.4px,#ff7a00 66.9px,#ffb700 69.3px,#fff500 71.8px,#f1ff00 72.8px,#daff00 73.8px,#c4ff00 74.8px,#adff00 75.9px,#00ff6a 76.9px,#00ff88 77.9px,#00ffa6 78.9px,#00ffc4 80.0px,#00ffe1 81.0px,#00ffff 82.0px,#00b8ff 84.0px,#0071ff 85.9px,#002aff 87.9px,#0000f8 89.8px,#0000e6 91.8px,#0000d4 93.8px,#0000ca 95.7px,#0000c2 97.7px,#0000ba 99.6px,#0000b3 101.6px);background-position:-38.0px 0}
.r73{top:219px;background:repeating-linear-gradient(90deg,#0000b3 0.0px,#0000be 2.7px,#0000c8 5.5px,#0000d8 8.2px,#0000ef 11.0px,#0026ff 13.7px,#008bff 16.4px,#00f0ff 19.2px,#00ffac 21.9px,#b2ff00 24.6px,#fff500 27.4px,#ffac00 29.4px,#ff6400 31.5px,#ff2100 33.5px,#fb0000 35.6px,#f20000 37.6px,#ea0000 39.7px,#e20000 41.7px,#da0000 43.7px,#d30000 45.8px,#cb0000 47.8px,#d40000 50.2px,#db0000 52.6px,#e10000 55.0px,#ea0000 57.4px,#f50000 59.8px,#ff1000 62.2px,#ff4100 64.6px,#ff7700 67.0px,#ffb500 69.4px,#fff500 71.8px,#f0ff00 72.8px,#daff00 73.9px,#c3ff00 74.9px,#acff00 75.9px,#00ff6b 76.9px,#00ff89 77.9px,#00ffa7 78.9px,#00ffc4 79.9px,#00ffe2 80.9px,#00ffff 81.9px,#00b7ff 83.9px,#006fff 85.9px,#0027ff 87.8px,#0000f7 89.8px,#0000e5 91.8px,#0000d3 93.7px,#0000c9 95.7px,#0000c2 97.7px,#0000ba 99.6px,#0000b3 101.6px);background-position:-38.6px 0}
.r74{top:222px;background:repeating-linear-gradient(90deg,#0000b3 0.0px,#0000bd 2.7px,#0000c8 5.5px,#0000d7 8.2px,#0000ee 11.0px,#0020ff 13.7px,#0084ff 16.5px,#00eaff 19.2px,#00ffb1 22.0px,#b0ff00 24.7px,#fff500 27.5px,#ffac00 29.6px,#ff6400 31.6px,#ff2200 33.7px,#fd0000 35.8px,#f60000 37.9px,#ef0000 40.0px,#e90000 42.0px,#e60000 44.1px,#e10000 46.2px,#da0000 48.3px,#e10000 50.6px,#e50000 53.0px,#e70000 55.4px,#ee0000 57.7px,#f70000 60.1px,#ff0e00 62.5px,#ff3e00 64.8px,#ff7400 67.2px,#ffb400 69.5px,#fff500 71.9px,#f0ff00 72.9px,#d9ff00 73.9px,#c2ff00 74.9px,#acff00 75.9px,#00ff6d 76.9px,#00ff8b 77.9px,#00ffa8 78.9px,#00ffc5 79.9px,#00ffe2 80.9px,#00ffff 81.9px,#00b6ff 83.9px,#006dff 85.8px,#0025ff 87.8px,#0000f6 89.8px,#0000e4 91.7px,#0000d2 93.7px,#0000c9 95.7px,#0000c1 97.7px,#0000ba 99.6px,#0000b3 101.6px);background-position:-39.2px 0}
.r75{top:225px;background:repeating-linear-gradient(90deg,#0000b3 0.0px,#0000bd 2.8px,#0000c7 5.5px,#0000d6 8.3px,#0000ed 11.0px,#001bff 13.8px,#007eff 16.6px,#00e4ff 19.3px,#00ffb7 22.1px,#adff00 24.8px,#fff500 27.6px,#ffac00 29.7px,#ff6400 31.8px,#ff2200 33.9px,#fd0000 36.0px,#f40000 38.2px,#ed0000 40.3px,#e70000 42.4px,#e30000 44.5px,#df0000 46.6px,#d80000 48.7px,#df0000 51.0px,#e20000 53.4px,#e50000 55.7px,#eb0000 58.0px,#f50000 60.3px,#ff0c00 62.7px,#ff3b00 65.0px,#ff7100 67.3px,#ffb200 69.7px,#fff500 72.0px,#f0ff00 73.0px,#d9ff00 74.0px,#c2ff00 74.9px,#abff00 75.9px,#00ff6e 76.9px,#00ff8c 77.9px,#00ffa9 78.9px,#00ffc5 79.9px,#00ffe2 80.8px,#00ffff 81.8px,#00b5ff 83.8px,#006bff 85.8px,#0022ff 87.8px,#0000f5 89.7px,#0000e3 91.7px,#0000d1 93.7px,#0000c8 95.7px,#0000c1 97.6px,#0000b9 99.6px,#0000b3 101.6px);background-position:-39.8px 0}
.r76{top:228px;background:repeating-linear-gradient(90deg,#0000b3 0.0px,#0000bd 2.8px,#0000c7 5.5px,#0000d5 8.3px,#0000ec 11.1px,#0015ff 13.9px,#0078ff 16.6px,#00ddff 19.4px,#00ffbc 22.2px,#aaff00 24.9px,#fff500 27.7px,#ffac00 29.9px,#ff6400 32.0px,#ff2100 34.1px,#fa0000 36.3px,#ef0000 38.4px,#e50000 40.6px,#da0000 42.7px,#d40000 44.9px,#cd0000 47.0px,#c60000 49.1px,#cd0000 51.4px,#d30000 53.7px,#d90000 56.0px,#e30000 58.3px,#f10000 60.6px,#ff0800 62.9px,#ff3700 65.2px,#ff6e00 67.5px,#ffb000 69.8px,#fff500 72.1px,#f0ff00 73.0px,#d9ff00 74.0px,#c1ff00 75.0px,#aaff00 75.9px,#00ff70 76.9px,#00ff8d 77.9px,#00ffa9 78.9px,#00ffc6 79.8px,#00ffe2 80.8px,#00ffff 81.8px,#00b4ff 83.7px,#006aff 85.7px,#001fff 87.7px,#0000f4 89.7px,#0000e2 91.7px,#0000d0 93.7px,#0000c8 95.6px,#0000c0 97.6px,#0000b9 99.6px,#0000b3 101.6px);background-position:-40.4px 0}
.r77{top:231px;background:repeating-linear-gradient(90deg,#0000b3 0.0px,#0000bd 2.8px,#0000c6 5.6px,#0000d4 8.3px,#0000eb 11.1px,#0010ff 13.9px,#0071ff 16.7px,#00d7ff 19.5px,#00ffc1 22.3px,#a8ff00 25.0px,#fff500 27.8px,#ffac00 30.0px,#ff6300 32.2px,#ff2000 34.4px,#f70000 36.5px,#e90000 38.7px,#da0000 40.9px,#ca0000 43.1px,#bf0000 45.2px,#b50000 47.4px,#ad0000 49.6px,#b50000 51.8px,#be0000 54.1px,#c80000 56.3px,#d80000 58.6px,#ea0000 60.9px,#ff0300 63.1px,#ff3300 65.4px,#ff6b00 67.6px,#ffaf00 69.9px,#fff500 72.1px,#f0ff00 73.1px,#d8ff00 74.1px,#c1ff00 75.0px,#a9ff00 76.0px,#00ff71 76.9px,#00ff8e 77.9px,#00ffaa 78.8px,#00ffc7 79.8px,#00ffe3 80.7px,#00ffff 81.7px,#00b3ff 83.7px,#0068ff 85.7px,#001cff 87.7px,#0000f4 89.7px,#0000e1 91.6px,#0000cf 93.6px,#0000c7 95.6px,#0000c0 97.6px,#0000b9 99.6px,#0000b3 101.6px);background-position:-41.0px 0}
.r78{top:234px;background:repeating-linear-gradient(90deg,#0000b3 0.0px,#0000bc 2.8px,#0000c6 5.6px,#0000d3 8.4px,#0000e9 11.2px,#000aff 14.0px,#006bff 16.8px,#00d1ff 19.6px,#00ffc6 22.4px,#a5ff00 25.1px,#fff500 27.9px,#ffac00 30.1px,#ff6300 32.4px,#ff2000 34.6px,#f50000 36.8px,#e40000 39.0px,#d20000 41.2px,#be0000 43.4px,#b00000 45.6px,#a40000 47.8px,#9a0000 50.0px,#a30000 52.2px,#af0000 54.5px,#bc0000 56.7px,#d00000 58.9px,#e50000 61.1px,#fd0000 63.3px,#ff2f00 65.6px,#ff6700 67.8px,#ffad00 70.0px,#fff500 72.2px,#efff00 73.2px,#d8ff00 74.1px,#c0ff00 75.0px,#a8ff00 76.0px,#00ff73 76.9px,#00ff8f 77.9px,#00ffab 78.8px,#00ffc7 79.8px,#00ffe3 80.7px,#00ffff 81.6px,#00b2ff 83.6px,#0066ff 85.6px,#0019ff 87.6px,#0000f3 89.6px,#0000e0 91.6px,#0000ce 93.6px,#0000c7 95.6px,#0000c0 97.6px,#0000b9 99.6px,#0000b3 101.6px);background-position:-41.6px 0}
.r79{top:237px;background:repeating-linear-gradient(90deg,#0000b3 0.0px,#0000bc 2.8px,#0000c5 5.6px,#0000d2 8.4px,#0000e8 11.2px,#0005ff 14.0px,#0064ff 16.8px,#00cbff 19.6px,#00ffcc 22.4px,#a2ff00 25.2px,#fff500 28.1px,#ffac00 30.3px,#ff6300 32.5px,#ff2000 34.8px,#f50000 37.0px,#e30000 39.2px,#d00000 41.5px,#bc0000 43.7px,#ae0000 46.0px,#a20000 48.2px,#990000 50.4px,#a10000 52.6px,#ac0000 54.8px,#b80000 57.0px,#cd0000 59.2px,#e30000 61.4px,#fa0000 63.6px,#ff2c00 65.7px,#ff6400 67.9px,#ffab00 70.1px,#fff500 72.3px,#efff00 73.2px,#d7ff00 74.2px,#bfff00 75.1px,#a7ff00 76.0px,#00ff74 76.9px,#00ff91 77.9px,#00ffac 78.8px,#00ffc8 79.7px,#00ffe3 80.7px,#00ffff 81.6px,#00b1ff 83.6px,#0064ff 85.6px,#0016ff 87.6px,#0000f2 89.6px,#0000df 91.6px,#0000cd 93.6px,#0000c6 95.6px,#0000bf 97.6px,#0000b9 99.6px,#0000b3 101.6px);background-position:-42.2px 0}
.r80{top:240px;background:repeating-linear-gradient(90deg,#0000b3 0.0px,#0000bc 2.8px,#0000c5 5.6px,#0000d1 8.5px,#0000e7 11.3px,#0000fe 14.1px,#005eff 16.9px,#00c4ff 19.7px,#00ffd1 22.5px,#9fff00 25.4px,#fff500 28.2px,#ffac00 30.4px,#ff6300 32.7px,#ff2100 35.0px,#f60000 37.2px,#e60000 39.5px,#d50000 41.8px,#c30000 44.1px,#b80000 46.3px,#af0000 48.6px,#a70000 50.9px,#ae0000 53.0px,#b60000 55.2px,#bf0000 57.3px,#d10000 59.5px,#e50000 61.6px,#f90000 63.8px,#ff2900 65.9px,#ff6200 68.1px,#ffaa00 70.2px,#fff500 72.4px,#efff00 73.3px,#d7ff00 74.2px,#bfff00 75.1px,#a7ff00 76.0px,#00ff76 76.9px,#00ff92 77.9px,#00ffad 78.8px,#00ffc8 79.7px,#00ffe4 80.6px,#00ffff 81.5px,#00b0ff 83.5px,#0062ff 85.5px,#0013ff 87.5px,#0000f1 89.6px,#0000de 91.6px,#0000cc 93.6px,#0000c6 95.6px,#0000bf 97.6px,#0000b9 99.6px,#0000b3 101.6px);background-position:-42.8px 0}
.r81{top:243px;background:repeating-linear-gradient(90deg,#0000b3 0.0px,#0000bc 2.8px,#0000c6 5.7px,#0000d2 8.5px,#0000e9 11.3px,#0006ff 14.2px,#0064ff 17.0px,#00caff 19.9px,#00ffcb 22.7px,#a2ff00 25.5px,#fff500 28.4px,#ffab00 30.6px,#ff6200 32.9px,#ff1f00 35.2px,#f70000 37.5px,#e70000 39.8px,#d90000 42.1px,#cc0000 44.4px,#c70000 46.7px,#c20000 49.0px,#bc0000 51.2px,#c10000 53.4px,#c50000 55.5px,#c90000 57.7px,#d50000 59.8px,#e60000 61.9px,#f80000 64.1px,#ff2500 66.2px,#ff5900 68.3px,#ffa500 70.5px,#fff500 72.6px,#efff00 73.5px,#d7ff00 74.4px,#bfff00 75.3px,#a7ff00 76.2px,#00ff75 77.1px,#00ff91 78.0px,#00ffac 78.9px,#00ffc8 79.8px,#00ffe3 80.7px,#00ffff 81.6px,#00b1ff 83.6px,#0064ff 85.6px,#0016ff 87.6px,#0000f2 89.6px,#0000df 91.6px,#0000cd 93.6px,#0000c6 95.6px,#0000bf 97.6px,#0000b9 99.6px,#0000b3 101.6px);background-position:-43.6px 0}
.r82{top:246px;background:repeating-linear-gradient(90deg,#0000b3 0.0px,#0000bc 2.9px,#0000c7 5.7px,#0000d5 8.6px,#0000ec 11.4px,#0012ff 14.3px,#0071ff 17.2px,#00d5ff 20.0px,#00ffc1 22.9px,#a7ff00 25.7px,#fff500 28.6px,#ffaa00 30.9px,#ff5f00 33.2px,#ff1c00 35.5px,#f50000 37.8px,#e60000 40.1px,#d80000 42.4px,#d00000 44.7px,#cf0000 47.0px,#cd0000 49.3px,#c90000 51.6px,#cd0000 53.7px,#ce0000 55.8px,#ce0000 58.0px,#d50000 60.1px,#e40000 62.2px,#f50000 64.4px,#ff1e00 66.5px,#ff4f00 68.6px,#ff9f00 70.8px,#fff500 72.9px,#efff00 73.8px,#d8ff00 74.7px,#c0ff00 75.5px,#a9ff00 76.4px,#00ff72 77.3px,#00ff8f 78.2px,#00ffab 79.1px,#00ffc7 79.9px,#00ffe3 80.8px,#00ffff 81.7px,#00b3ff 83.7px,#0067ff 85.7px,#001bff 87.7px,#0000f3 89.7px,#0000e1 91.6px,#0000cf 93.6px,#0000c7 95.6px,#0000c0 97.6px,#0000b9 99.6px,#0000b3 101.6px);background-position:-44.4px 0}
.r83{top:249px;background:repeating-linear-gradient(90deg,#0000b3 0.0px,#0000bd 2.9px,#0000c8 5.8px,#0000d8 8.6px,#0000f0 11.5px,#001eff 14.4px,#007dff 17.3px,#00dfff 20.2px,#00ffb8 23.1px,#acff00 25.9px,#fff500 28.8px,#ffa800 31.1px,#ff5d00 33.4px,#ff1700 35.8px,#f20000 38.1px,#e20000 40.4px,#d20000 42.7px,#cb0000 45.0px,#ca0000 47.3px,#c90000 49.6px,#c50000 51.9px,#c90000 54.1px,#ca0000 56.2px,#c90000 58.3px,#cf0000 60.4px,#df0000 62.6px,#f00000 64.7px,#ff1600 66.8px,#ff4300 68.9px,#ff9900 71.1px,#fff500 73.2px,#f0ff00 74.1px,#d9ff00 74.9px,#c1ff00 75.8px,#aaff00 76.6px,#00ff6f 77.5px,#00ff8c 78.4px,#00ffa9 79.2px,#00ffc6 80.1px,#00ffe2 80.9px,#00ffff 81.8px,#00b4ff 83.8px,#006aff 85.8px,#001fff 87.7px,#0000f5 89.7px,#0000e3 91.7px,#0000d1 93.7px,#0000c8 95.7px,#0000c0 97.6px,#0000b9 99.6px,#0000b3 101.6px);background-position:-45.2px 0}
.r84{top:252px;background:repeating-linear-gradient(90deg,#0000b3 0.0px,#0000bd 2.9px,#0000ca 5.8px,#0000da 8.7px,#0000f3 11.6px,#002aff 14.5px,#0089ff 17.4px,#00eaff 20.3px,#00ffae 23.2px,#b0ff00 26.1px,#fff500 29.0px,#ffa700 31.4px,#ff5a00 33.7px,#ff1300 36.0px,#ee0000 38.3px,#da0000 40.7px,#c70000 43.0px,#bd0000 45.3px,#b90000 47.6px,#b60000 49.9px,#b10000 52.3px,#b50000 54.4px,#b80000 56.5px,#bb0000 58.6px,#c20000 60.8px,#d50000 62.9px,#e90000 65.0px,#ff0e00 67.1px,#ff3700 69.3px,#ff9300 71.4px,#fff500 73.5px,#f0ff00 74.3px,#d9ff00 75.2px,#c2ff00 76.0px,#abff00 76.9px,#00ff6d 77.7px,#00ff8a 78.6px,#00ffa7 79.4px,#00ffc5 80.2px,#00ffe2 81.1px,#00ffff 81.9px,#00b6ff 83.9px,#006dff 85.9px,#0024ff 87.8px,#0000f6 89.8px,#0000e5 91.8px,#0000d3 93.7px,#0000c8 95.7px,#0000c0 97.7px,#0000b9 99.6px,#0000b3 101.6px);background-position:-46.0px 0}
.r85{top:255px;background:repeating-linear-gradient(90deg,#0000b3 0.0px,#0000be 2.9px,#0000cb 5.9px,#0000dd 8.8px,#0000f7 11.7px,#0036ff 14.6px,#0095ff 17.6px,#00f4ff 20.5px,#00ffa4 23.4px,#b5ff00 26.3px,#fff500 29.3px,#ffa600 31.6px,#ff5700 33.9px,#ff0e00 36.3px,#e90000 38.6px,#d10000 40.9px,#b90000 43.3px,#ab0000 45.6px,#a30000 47.9px,#9c0000 50.3px,#960000 52.6px,#9b0000 54.7px,#a10000 56.8px,#a80000 59.0px,#b20000 61.1px,#c90000 63.2px,#e00000 65.3px,#ff0400 67.4px,#ff2b00 69.6px,#ff8d00 71.7px,#fff500 73.8px,#f1ff00 74.6px,#daff00 75.4px,#c3ff00 76.3px,#adff00 77.1px,#00ff6a 77.9px,#00ff88 78.7px,#00ffa6 79.6px,#00ffc4 80.4px,#00ffe1 81.2px,#00ffff 82.0px,#00b8ff 84.0px,#0070ff 85.9px,#0029ff 87.9px,#0000f8 89.9px,#0000e6 91.8px,#0000d5 93.8px,#0000c9 95.7px,#0000c0 97.7px,#0000b9 99.6px,#0000b3 101.6px);background-position:-46.8px 0}
.r86{top:258px;background:repeating-linear-gradient(90deg,#0000b3 0.0px,#0000be 3.0px,#0000cc 5.9px,#0000e0 8.9px,#0000fa 11.8px,#0042ff 14.8px,#00a1ff 17.7px,#00ffff 20.7px,#00ff9a 23.6px,#baff00 26.6px,#fff500 29.5px,#ffa400 31.8px,#ff5400 34.2px,#ff0900 36.5px,#e50000 38.9px,#ca0000 41.2px,#ad0000 43.6px,#9c0000 45.9px,#920000 48.3px,#880000 50.6px,#820000 53.0px,#880000 55.1px,#900000 57.2px,#990000 59.3px,#a50000 61.4px,#bf0000 63.5px,#d90000 65.6px,#fa0000 67.8px,#ff2000 69.9px,#ff8600 72.0px,#fff500 74.1px,#f1ff00 74.9px,#dbff00 75.7px,#c4ff00 76.5px,#aeff00 77.3px,#00ff68 78.1px,#00ff86 78.9px,#00ffa4 79.7px,#00ffc3 80.5px,#00ffe1 81.3px,#00ffff 82.2px,#00b9ff 84.1px,#0073ff 86.0px,#002eff 88.0px,#0000f9 89.9px,#0000e8 91.9px,#0000d7 93.8px,#0000ca 95.8px,#0000c1 97.7px,#0000ba 99.7px,#0000b3 101.6px);background-position:-47.6px 0}
.r87{top:261px;background:repeating-linear-gradient(90deg,#0000b3 0.0px,#0000be 3.0px,#0000cd 5.9px,#0000e3 8.9px,#0000fe 11.9px,#004dff 14.9px,#00adff 17.8px,#00fff3 20.8px,#00ff90 23.8px,#bfff00 26.8px,#fff500 29.7px,#ffa300 32.1px,#ff5100 34.4px,#ff0500 36.8px,#e20000 39.2px,#c60000 41.5px,#a70000 43.9px,#970000 46.2px,#8d0000 48.6px,#840000 50.9px,#800000 53.3px,#840000 55.4px,#8b0000 57.5px,#940000 59.6px,#9f0000 61.7px,#ba0000 63.8px,#d40000 66.0px,#f30000 68.1px,#ff1400 70.2px,#ff8000 72.3px,#fff500 74.4px,#f1ff00 75.2px,#dbff00 76.0px,#c5ff00 76.8px,#afff00 77.5px,#9aff00 78.3px,#00ff84 79.1px,#00ffa3 79.9px,#00ffc2 80.7px,#00ffe0 81.5px,#00ffff 82.3px,#00bbff 84.2px,#0077ff 86.1px,#0032ff 88.1px,#0000fb 90.0px,#0000ea 91.9px,#0000d9 93.9px,#0000cb 95.8px,#0000c1 97.7px,#0000ba 99.7px,#0000b3 101.6px);background-position:-48.4px 0}
.r88{top:264px;background:repeating-linear-gradient(90deg,#0000b3 0.0px,#0000bf 3.0px,#0000cf 6.0px,#0000e5 9.0px,#0002ff 12.0px,#0059ff 15.0px,#00b9ff 18.0px,#00ffe6 21.0px,#00ff86 24.0px,#c4ff00 27.0px,#fff500 30.0px,#ffa200 32.3px,#ff4f00 34.7px,#ff0100 37.1px,#e10000 39.4px,#c40000 41.8px,#a70000 44.2px,#9b0000 46.5px,#950000 48.9px,#900000 51.3px,#8c0000 53.6px,#8f0000 55.7px,#940000 57.8px,#990000 60.0px,#a00000 62.1px,#b80000 64.2px,#d10000 66.3px,#ec0000 68.4px,#ff0900 70.5px,#ff7b00 72.6px,#fff500 74.7px,#f2ff00 75.5px,#dcff00 76.2px,#c6ff00 77.0px,#b1ff00 77.8px,#9bff00 78.5px,#00ff82 79.3px,#00ffa1 80.1px,#00ffc0 80.8px,#00ffe0 81.6px,#00ffff 82.4px,#00bcff 84.3px,#007aff 86.2px,#0037ff 88.1px,#0000fc 90.1px,#0000eb 92.0px,#0000db 93.9px,#0000cb 95.8px,#0000c1 97.8px,#0000ba 99.7px,#0000b3 101.6px);background-position:-49.2px 0}
.r89{top:267px;background:repeating-linear-gradient(90deg,#0000b3 0.0px,#0000bf 3.0px,#0000d0 6.0px,#0000e8 9.1px,#0006ff 12.1px,#0065ff 15.1px,#00c5ff 18.1px,#00ffd9 21.1px,#00ff7c 24.1px,#c9ff00 27.2px,#fff500 30.2px,#ffa000 32.6px,#ff4c00 34.9px,#fd0000 37.3px,#e00000 39.7px,#c40000 42.1px,#a90000 44.5px,#a30000 46.8px,#a20000 49.2px,#a20000 51.6px,#a00000 54.0px,#a20000 56.1px,#a30000 58.2px,#a30000 60.3px,#a30000 62.4px,#b80000 64.5px,#cf0000 66.6px,#e60000 68.7px,#fe0000 70.8px,#ff7500 72.9px,#fff500 75.0px,#f2ff00 75.7px,#ddff00 76.5px,#c7ff00 77.2px,#b2ff00 78.0px,#9dff00 78.7px,#00ff80 79.5px,#00ffa0 80.2px,#00ffbf 81.0px,#00ffdf 81.7px,#00ffff 82.5px,#00beff 84.4px,#007dff 86.3px,#003cff 88.2px,#0000fe 90.1px,#0000ed 92.0px,#0000dd 94.0px,#0000cc 95.9px,#0000c2 97.8px,#0000ba 99.7px,#0000b3 101.6px);background-position:-49.9px 0}
.r90{top:270px;background:repeating-linear-gradient(90deg,#0000b3 0.0px,#0000bf 3.0px,#0000d0 6.0px,#0000e8 9.0px,#0005ff 12.1px,#0065ff 15.1px,#00c5ff 18.1px,#00ffda 21.1px,#00ff7c 24.1px,#c9ff00 27.1px,#fff500 30.1px,#ffa500 32.5px,#ff5500 34.9px,#ff0b00 37.3px,#f50000 39.7px,#e20000 42.1px,#d10000 44.5px,#d10000 46.8px,#d40000 49.2px,#d70000 51.6px,#d60000 54.0px,#d70000 56.1px,#d50000 58.2px,#d20000 60.3px,#cf0000 62.4px,#da0000 64.5px,#e90000 66.6px,#f90000 68.7px,#ff0b00 70.8px,#ff7b00 72.9px,#fff500 75.0px,#f2ff00 75.8px,#ddff00 76.5px,#c8ff00 77.2px,#b2ff00 78.0px,#9dff00 78.8px,#00ff80 79.5px,#00ffa0 80.2px,#00ffbf 81.0px,#00ffdf 81.8px,#00ffff 82.5px,#00beff 84.4px,#007dff 86.3px,#003cff 88.2px,#0000fe 90.1px,#0000ed 92.0px,#0000dd 94.0px,#0000cc 95.9px,#0000c2 97.8px,#0000ba 99.7px,#0000b3 101.6px);background-position:-50.2px 0}
.r91{top:273px;background:repeating-linear-gradient(90deg,#0000b3 0.0px,#0000bf 3.0px,#0000d0 6.0px,#0000e8 9.0px,#0004ff 12.0px,#0064ff 15.0px,#00c4ff 18.0px,#00ffdb 21.0px,#00ff7d 24.0px,#c8ff00 27.1px,#fff500 30.1px,#ffa900 32.5px,#ff5e00 34.8px,#ff1900 37.2px,#ff0c00 39.6px,#ff0000 42.0px,#f70000 44.4px,#f90000 46.8px,#fd0000 49.2px,#ff0000 51.6px,#ff0000 54.0px,#ff0000 56.1px,#fd0000 58.2px,#fa0000 60.3px,#f70000 62.4px,#fb0000 64.5px,#ff0400 66.6px,#ff0e00 68.7px,#ff1900 70.8px,#ff8200 72.9px,#fff500 75.0px,#f2ff00 75.8px,#ddff00 76.5px,#c8ff00 77.2px,#b2ff00 78.0px,#9dff00 78.8px,#00ff80 79.5px,#00ffa0 80.2px,#00ffbf 81.0px,#00ffdf 81.8px,#00ffff 82.5px,#00beff 84.4px,#007dff 86.3px,#003cff 88.2px,#0000fe 90.1px,#0000ed 92.0px,#0000dd 94.0px,#0000cc 95.9px,#0000c2 97.8px,#0000ba 99.7px,#0000b3 101.6px);background-position:-50.3px 0}
.r92{top:276px;background:repeating-linear-gradient(90deg,#0000b3 0.0px,#0000bf 3.0px,#0000d0 6.0px,#0000e8 9.0px,#0003ff 12.0px,#0063ff 15.0px,#00c2ff 18.0px,#00ffdc 21.0px,#00ff7e 24.0px,#c8ff00 27.0px,#fff500 30.0px,#ffad00 32.4px,#ff6600 34.8px,#ff2300 37.2px,#ff1c00 39.6px,#ff1600 42.0px,#ff1200 44.4px,#ff1200 46.8px,#ff1300 49.2px,#ff1200 51.6px,#ff1100 54.0px,#ff1200 56.1px,#ff1300 58.2px,#ff1200 60.3px,#ff1200 62.4px,#ff1200 64.5px,#ff1800 66.6px,#ff1d00 68.7px,#ff2300 70.8px,#ff8700 72.9px,#fff500 75.0px,#f2ff00 75.8px,#ddff00 76.5px,#c8ff00 77.2px,#b2ff00 78.0px,#9dff00 78.8px,#00ff80 79.5px,#00ffa0 80.2px,#00ffbf 81.0px,#00ffdf 81.8px,#00ffff 82.5px,#00beff 84.4px,#007dff 86.3px,#003cff 88.2px,#0000fe 90.1px,#0000ed 92.0px,#0000dd 94.0px,#0000cc 95.9px,#0000c2 97.8px,#0000ba 99.7px,#0000b3 101.6px);background-position:-50.5px 0}
.cb{position:absolute;left:1143.6px;width:31.6px;height:276px;background:linear-gradient(180deg,#800000 0.00%,#9f0000 3.12%,#bf0000 6.25%,#df0000 9.37%,#ff0000 12.50%,#ff2000 15.62%,#ff4000 18.75%,#ff6000 21.87%,#ff7f00 25.00%,#ff9f00 28.12%,#ffbf00 31.24%,#ffdf00 34.37%,#ffff00 37.49%,#e6ff00 40.62%,#ccff00 43.74%,#b3ff00 46.87%,#99ff00 49.99%,#00ff66 50.01%,#00ff8c 53.13%,#00ffb3 56.26%,#00ffd9 59.38%,#00ffff 62.51%,#00dfff 65.63%,#00bfff 68.76%,#009fff 71.88%,#007fff 75.00%,#0060ff 78.13%,#0040ff 81.25%,#0020ff 84.38%,#0000ff 87.50%,#0000df 90.63%,#0000bf 93.75%,#00009f 96.88%,#000080 100.00%);border-left:1.3px solid #444;border-top:1px solid #522;box-sizing:border-box}
.t{position:absolute;white-space:nowrap;line-height:1;filter:blur(.45px)}
.n{font-size:58.5px}
.e{font-size:38px}
.e .x{font-weight:normal}
.e sup{font-size:22px;vertical-align:top;position:relative;top:-1px;line-height:1}
.rot{transform-origin:0 0}
svg{position:absolute;left:0;top:0;z-index:2}
</style></head><body>
<div class="hm" style="top:77px"><i class="r0"></i><i class="r1"></i><i class="r2"></i><i class="r3"></i><i class="r4"></i><i class="r5"></i><i class="r6"></i><i class="r7"></i><i class="r8"></i><i class="r9"></i><i class="r10"></i><i class="r11"></i><i class="r12"></i><i class="r13"></i><i class="r14"></i><i class="r15"></i><i class="r16"></i><i class="r17"></i><i class="r18"></i><i class="r19"></i><i class="r20"></i><i class="r21"></i><i class="r22"></i><i class="r23"></i><i class="r24"></i><i class="r25"></i><i class="r26"></i><i class="r27"></i><i class="r28"></i><i class="r29"></i><i class="r30"></i><i class="r31"></i><i class="r32"></i><i class="r33"></i><i class="r34"></i><i class="r35"></i><i class="r36"></i><i class="r37"></i><i class="r38"></i><i class="r39"></i><i class="r40"></i><i class="r41"></i><i class="r42"></i><i class="r43"></i><i class="r44"></i><i class="r45"></i><i class="r46"></i><i class="r47"></i><i class="r48"></i><i class="r49"></i><i class="r50"></i><i class="r51"></i><i class="r52"></i><i class="r53"></i><i class="r54"></i><i class="r55"></i><i class="r56"></i><i class="r57"></i><i class="r58"></i><i class="r59"></i><i class="r60"></i><i class="r61"></i><i class="r62"></i><i class="r63"></i><i class="r64"></i><i class="r65"></i><i class="r66"></i><i class="r67"></i><i class="r68"></i><i class="r69"></i><i class="r70"></i><i class="r71"></i><i class="r72"></i><i class="r73"></i><i class="r74"></i><i class="r75"></i><i class="r76"></i><i class="r77"></i><i class="r78"></i><i class="r79"></i><i class="r80"></i><i class="r81"></i><i class="r82"></i><i class="r83"></i><i class="r84"></i><i class="r85"></i><i class="r86"></i><i class="r87"></i><i class="r88"></i><i class="r89"></i><i class="r90"></i><i class="r91"></i><i class="r92"></i></div>
<div class="hb" style="top:353px;background:#3a8be0"></div>
<div class="hm" style="top:460px"><i class="r0"></i><i class="r1"></i><i class="r2"></i><i class="r3"></i><i class="r4"></i><i class="r5"></i><i class="r6"></i><i class="r7"></i><i class="r8"></i><i class="r9"></i><i class="r10"></i><i class="r11"></i><i class="r12"></i><i class="r13"></i><i class="r14"></i><i class="r15"></i><i class="r16"></i><i class="r17"></i><i class="r18"></i><i class="r19"></i><i class="r20"></i><i class="r21"></i><i class="r22"></i><i class="r23"></i><i class="r24"></i><i class="r25"></i><i class="r26"></i><i class="r27"></i><i class="r28"></i><i class="r29"></i><i class="r30"></i><i class="r31"></i><i class="r32"></i><i class="r33"></i><i class="r34"></i><i class="r35"></i><i class="r36"></i><i class="r37"></i><i class="r38"></i><i class="r39"></i><i class="r40"></i><i class="r41"></i><i class="r42"></i><i class="r43"></i><i class="r44"></i><i class="r45"></i><i class="r46"></i><i class="r47"></i><i class="r48"></i><i class="r49"></i><i class="r50"></i><i class="r51"></i><i class="r52"></i><i class="r53"></i><i class="r54"></i><i class="r55"></i><i class="r56"></i><i class="r57"></i><i class="r58"></i><i class="r59"></i><i class="r60"></i><i class="r61"></i><i class="r62"></i><i class="r63"></i><i class="r64"></i><i class="r65"></i><i class="r66"></i><i class="r67"></i><i class="r68"></i><i class="r69"></i><i class="r70"></i><i class="r71"></i><i class="r72"></i><i class="r73"></i><i class="r74"></i><i class="r75"></i><i class="r76"></i><i class="r77"></i><i class="r78"></i><i class="r79"></i><i class="r80"></i><i class="r81"></i><i class="r82"></i><i class="r83"></i><i class="r84"></i><i class="r85"></i><i class="r86"></i><i class="r87"></i><i class="r88"></i><i class="r89"></i><i class="r90"></i><i class="r91"></i><i class="r92"></i></div>
<div class="hb" style="top:736px;background:#8a86f0"></div>
<div class="cb" style="top:78px"></div>
<div class="cb" style="top:461px"></div>
<svg width="1376" height="1259" viewBox="0 0 1376 1259">
<defs><clipPath id="cp"><rect x="291" y="843.5" width="827.8" height="246.5"/></clipPath></defs>
<g clip-path="url(#cp)" fill="none" stroke-linejoin="round" style="filter:blur(.5px)">
<path d="M280.8 1091.0 L284.7 1000.6 L288.1 933.7 L291.4 883.6 L294.8 853.5 L297.4 841.8 L299.8 856.8 L303.1 880.2 L308.1 910.3 L312.2 928.7 L316.5 917.0 L320.5 910.3 L323.2 886.9 L325.9 890.3 L328.2 900.3 L329.9 897.0 L332.2 907.0 L334.9 927.0 L338.2 947.1 L341.6 958.8 L345.6 975.5 L348.3 963.8 L350.9 967.2 L352.6 973.9 L355.0 960.5 L357.6 957.1 L360.0 968.8 L363.3 980.5 L366.7 991.2 L370.7 980.5 L374.0 973.9 L376.6 972.2 L379.7 1000.6 L382.4 1050.8 L384.5 1091.0 L388.4 1000.6 L391.8 933.7 L395.1 883.6 L398.5 853.5 L401.1 841.8 L403.5 856.8 L406.8 880.2 L411.8 910.3 L415.9 928.7 L420.2 917.0 L424.2 910.3 L426.9 886.9 L429.6 890.3 L431.9 900.3 L433.6 897.0 L435.9 907.0 L438.6 927.0 L441.9 947.1 L445.3 958.8 L449.3 975.5 L452.0 963.8 L454.6 967.2 L456.3 973.9 L458.7 960.5 L461.3 957.1 L463.7 968.8 L467.0 980.5 L470.4 991.2 L474.4 980.5 L477.7 973.9 L480.3 972.2 L483.4 1000.6 L486.1 1050.8 L488.2 1091.0 L492.1 1000.6 L495.5 933.7 L498.8 883.6 L502.2 853.5 L504.8 841.8 L507.2 856.8 L510.5 880.2 L515.5 910.3 L519.6 928.7 L523.9 917.0 L527.9 910.3 L530.6 886.9 L533.3 890.3 L535.6 900.3 L537.3 897.0 L539.6 907.0 L542.3 927.0 L545.6 947.1 L549.0 958.8 L553.0 975.5 L555.7 963.8 L558.3 967.2 L560.0 973.9 L562.4 960.5 L565.0 957.1 L567.4 968.8 L570.7 980.5 L574.1 991.2 L578.1 980.5 L581.4 973.9 L584.0 972.2 L587.1 1000.6 L589.8 1050.8 L591.9 1091.0 L595.8 1000.6 L599.2 933.7 L602.5 883.6 L605.9 853.5 L608.5 841.8 L610.9 856.8 L614.2 880.2 L619.2 910.3 L623.3 928.7 L627.6 917.0 L631.6 910.3 L634.3 886.9 L637.0 890.3 L639.3 900.3 L641.0 897.0 L643.3 907.0 L646.0 927.0 L649.3 947.1 L652.7 958.8 L656.7 975.5 L659.4 963.8 L662.0 967.2 L663.7 973.9 L666.1 960.5 L668.7 957.1 L671.1 968.8 L674.4 980.5 L677.8 991.2 L681.8 980.5 L685.1 973.9 L687.7 972.2 L690.8 1000.6 L693.5 1050.8 L695.5 1091.0 L699.4 1000.6 L702.8 933.7 L706.1 883.6 L709.5 853.5 L712.1 841.8 L714.5 856.8 L717.8 880.2 L722.8 910.3 L726.9 928.7 L731.2 917.0 L735.2 910.3 L737.9 886.9 L740.6 890.3 L742.9 900.3 L744.6 897.0 L746.9 907.0 L749.6 927.0 L752.9 947.1 L756.3 958.8 L760.3 975.5 L763.0 963.8 L765.6 967.2 L767.3 973.9 L769.7 960.5 L772.3 957.1 L774.7 968.8 L778.0 980.5 L781.4 991.2 L785.4 980.5 L788.7 973.9 L791.3 972.2 L794.4 1000.6 L797.1 1050.8 L799.2 1091.0 L803.1 1000.6 L806.5 933.7 L809.8 883.6 L813.2 853.5 L815.8 841.8 L818.2 856.8 L821.5 880.2 L826.5 910.3 L830.6 928.7 L834.9 917.0 L838.9 910.3 L841.6 886.9 L844.3 890.3 L846.6 900.3 L848.3 897.0 L850.6 907.0 L853.3 927.0 L856.6 947.1 L860.0 958.8 L864.0 975.5 L866.7 963.8 L869.3 967.2 L871.0 973.9 L873.4 960.5 L876.0 957.1 L878.4 968.8 L881.7 980.5 L885.1 991.2 L889.1 980.5 L892.4 973.9 L895.0 972.2 L898.1 1000.6 L900.8 1050.8 L902.9 1091.0 L906.8 1000.6 L910.2 933.7 L913.5 883.6 L916.9 853.5 L919.5 841.8 L921.9 856.8 L925.2 880.2 L930.2 910.3 L934.3 928.7 L938.6 917.0 L942.6 910.3 L945.3 886.9 L948.0 890.3 L950.3 900.3 L952.0 897.0 L954.3 907.0 L957.0 927.0 L960.3 947.1 L963.7 958.8 L967.7 975.5 L970.4 963.8 L973.0 967.2 L974.7 973.9 L977.1 960.5 L979.7 957.1 L982.1 968.8 L985.4 980.5 L988.8 991.2 L992.8 980.5 L996.1 973.9 L998.7 972.2 L1001.8 1000.6 L1004.5 1050.8 L1006.6 1091.0 L1010.5 1000.6 L1013.9 933.7 L1017.2 883.6 L1020.6 853.5 L1023.2 841.8 L1025.6 856.8 L1028.9 880.2 L1033.9 910.3 L1038.0 928.7 L1042.3 917.0 L1046.3 910.3 L1049.0 886.9 L1051.7 890.3 L1054.0 900.3 L1055.7 897.0 L1058.0 907.0 L1060.7 927.0 L1064.0 947.1 L1067.4 958.8 L1071.4 975.5 L1074.1 963.8 L1076.7 967.2 L1078.4 973.9 L1080.8 960.5 L1083.4 957.1 L1085.8 968.8 L1089.1 980.5 L1092.5 991.2 L1096.5 980.5 L1099.8 973.9 L1102.4 972.2 L1105.5 1000.6 L1108.2 1050.8 L1110.3 1091.0 L1114.2 1000.6 L1117.6 933.7 L1120.9 883.6 L1124.3 853.5 L1126.9 841.8 L1129.3 856.8 L1132.6 880.2 L1137.6 910.3 L1141.7 928.7 L1146.0 917.0 L1150.0 910.3 L1152.7 886.9 L1155.4 890.3 L1157.7 900.3 L1159.4 897.0 L1161.7 907.0 L1164.4 927.0 L1167.7 947.1 L1171.1 958.8 L1175.1 975.5 L1177.8 963.8 L1180.4 967.2 L1182.1 973.9 L1184.5 960.5 L1187.1 957.1 L1189.5 968.8 L1192.8 980.5 L1196.2 991.2 L1200.2 980.5 L1203.5 973.9 L1206.1 972.2 L1209.2 1000.6 L1211.9 1050.8 L1213.9 1091.0 L1217.8 1000.6 L1221.2 933.7 L1224.5 883.6 L1227.9 853.5 L1230.5 841.8 L1232.9 856.8 L1236.2 880.2 L1241.2 910.3 L1245.3 928.7 L1249.6 917.0 L1253.6 910.3 L1256.3 886.9 L1259.0 890.3 L1261.3 900.3 L1263.0 897.0 L1265.3 907.0 L1268.0 927.0 L1271.3 947.1 L1274.7 958.8 L1278.7 975.5 L1281.4 963.8 L1284.0 967.2 L1285.7 973.9 L1288.1 960.5 L1290.7 957.1 L1293.1 968.8 L1296.4 980.5 L1299.8 991.2 L1303.8 980.5 L1307.1 973.9 L1309.7 972.2 L1312.8 1000.6 L1315.5 1050.8" stroke="#1590d6" stroke-width="2"/>
<path d="M281.4 1092.0 L286.4 1000.6 L289.8 933.7 L293.1 883.6 L297.1 861.9 L301.5 886.9 L306.5 917.0 L310.5 935.4 L314.8 932.0 L319.8 920.4 L325.9 907.0 L329.9 912.0 L333.2 927.0 L336.6 947.1 L339.9 957.1 L344.9 977.2 L348.3 972.2 L351.6 973.9 L355.0 968.8 L358.3 973.9 L361.6 982.2 L366.0 993.2 L370.0 985.6 L375.0 978.9 L377.4 977.2 L380.0 1000.6 L382.7 1050.8 L385.1 1092.0 L390.1 1000.6 L393.5 933.7 L396.8 883.6 L400.8 861.9 L405.2 886.9 L410.2 917.0 L414.2 935.4 L418.5 932.0 L423.5 920.4 L429.6 907.0 L433.6 912.0 L436.9 927.0 L440.3 947.1 L443.6 957.1 L448.6 977.2 L452.0 972.2 L455.3 973.9 L458.7 968.8 L462.0 973.9 L465.3 982.2 L469.7 993.2 L473.7 985.6 L478.7 978.9 L481.1 977.2 L483.7 1000.6 L486.4 1050.8 L488.8 1092.0 L493.8 1000.6 L497.2 933.7 L500.5 883.6 L504.5 861.9 L508.9 886.9 L513.9 917.0 L517.9 935.4 L522.2 932.0 L527.2 920.4 L533.3 907.0 L537.3 912.0 L540.6 927.0 L544.0 947.1 L547.3 957.1 L552.3 977.2 L555.7 972.2 L559.0 973.9 L562.4 968.8 L565.7 973.9 L569.0 982.2 L573.4 993.2 L577.4 985.6 L582.4 978.9 L584.8 977.2 L587.4 1000.6 L590.1 1050.8 L592.5 1092.0 L597.5 1000.6 L600.9 933.7 L604.2 883.6 L608.2 861.9 L612.6 886.9 L617.6 917.0 L621.6 935.4 L625.9 932.0 L630.9 920.4 L637.0 907.0 L641.0 912.0 L644.3 927.0 L647.7 947.1 L651.0 957.1 L656.0 977.2 L659.4 972.2 L662.7 973.9 L666.1 968.8 L669.4 973.9 L672.7 982.2 L677.1 993.2 L681.1 985.6 L686.1 978.9 L688.5 977.2 L691.1 1000.6 L693.8 1050.8 L696.1 1092.0 L701.1 1000.6 L704.5 933.7 L707.8 883.6 L711.8 861.9 L716.2 886.9 L721.2 917.0 L725.2 935.4 L729.5 932.0 L734.5 920.4 L740.6 907.0 L744.6 912.0 L747.9 927.0 L751.3 947.1 L754.6 957.1 L759.6 977.2 L763.0 972.2 L766.3 973.9 L769.7 968.8 L773.0 973.9 L776.3 982.2 L780.7 993.2 L784.7 985.6 L789.7 978.9 L792.1 977.2 L794.7 1000.6 L797.4 1050.8 L799.8 1092.0 L804.8 1000.6 L808.2 933.7 L811.5 883.6 L815.5 861.9 L819.9 886.9 L824.9 917.0 L828.9 935.4 L833.2 932.0 L838.2 920.4 L844.3 907.0 L848.3 912.0 L851.6 927.0 L855.0 947.1 L858.3 957.1 L863.3 977.2 L866.7 972.2 L870.0 973.9 L873.4 968.8 L876.7 973.9 L880.0 982.2 L884.4 993.2 L888.4 985.6 L893.4 978.9 L895.8 977.2 L898.4 1000.6 L901.1 1050.8 L903.5 1092.0 L908.5 1000.6 L911.9 933.7 L915.2 883.6 L919.2 861.9 L923.6 886.9 L928.6 917.0 L932.6 935.4 L936.9 932.0 L941.9 920.4 L948.0 907.0 L952.0 912.0 L955.3 927.0 L958.7 947.1 L962.0 957.1 L967.0 977.2 L970.4 972.2 L973.7 973.9 L977.1 968.8 L980.4 973.9 L983.7 982.2 L988.1 993.2 L992.1 985.6 L997.1 978.9 L999.5 977.2 L1002.1 1000.6 L1004.8 1050.8 L1007.2 1092.0 L1012.2 1000.6 L1015.6 933.7 L1018.9 883.6 L1022.9 861.9 L1027.3 886.9 L1032.3 917.0 L1036.3 935.4 L1040.6 932.0 L1045.6 920.4 L1051.7 907.0 L1055.7 912.0 L1059.0 927.0 L1062.4 947.1 L1065.7 957.1 L1070.7 977.2 L1074.1 972.2 L1077.4 973.9 L1080.8 968.8 L1084.1 973.9 L1087.4 982.2 L1091.8 993.2 L1095.8 985.6 L1100.8 978.9 L1103.2 977.2 L1105.8 1000.6 L1108.5 1050.8 L1110.9 1092.0 L1115.9 1000.6 L1119.3 933.7 L1122.6 883.6 L1126.6 861.9 L1131.0 886.9 L1136.0 917.0 L1140.0 935.4 L1144.3 932.0 L1149.3 920.4 L1155.4 907.0 L1159.4 912.0 L1162.7 927.0 L1166.1 947.1 L1169.4 957.1 L1174.4 977.2 L1177.8 972.2 L1181.1 973.9 L1184.5 968.8 L1187.8 973.9 L1191.1 982.2 L1195.5 993.2 L1199.5 985.6 L1204.5 978.9 L1206.9 977.2 L1209.5 1000.6 L1212.2 1050.8 L1214.5 1092.0 L1219.5 1000.6 L1222.9 933.7 L1226.2 883.6 L1230.2 861.9 L1234.6 886.9 L1239.6 917.0 L1243.6 935.4 L1247.9 932.0 L1252.9 920.4 L1259.0 907.0 L1263.0 912.0 L1266.3 927.0 L1269.7 947.1 L1273.0 957.1 L1278.0 977.2 L1281.4 972.2 L1284.7 973.9 L1288.1 968.8 L1291.4 973.9 L1294.7 982.2 L1299.1 993.2 L1303.1 985.6 L1308.1 978.9 L1310.5 977.2 L1313.1 1000.6 L1315.8 1050.8" stroke="#f4283c" stroke-width="2"/>
</g>
<path d="M373.9 845v8.5M373.9 1088.7v-9" stroke="#d8d8d8" stroke-width="2.2"/><path d="M457.3 845v8.5M457.3 1088.7v-9" stroke="#444" stroke-width="2.2"/><path d="M539.4 845v8.5M539.4 1088.7v-9" stroke="#444" stroke-width="2.2"/><path d="M705.6 845v8.5M705.6 1088.7v-9" stroke="#444" stroke-width="2.2"/><path d="M787.7 845v8.5M787.7 1088.7v-9" stroke="#c8c8c8" stroke-width="2.2"/><path d="M953.3 845v8.5M953.3 1088.7v-9" stroke="#444" stroke-width="2.2"/><path d="M1036.6 845v8.5M1036.6 1088.7v-9" stroke="#444" stroke-width="2.2"/><path d="M292.9 854.7h6" stroke="#456" stroke-width="2.4"/><path d="M292.9 933.7h7" stroke="#555" stroke-width="1.8"/><path d="M292.9 1011h7" stroke="#ccc" stroke-width="1.6"/><path d="M1117.7 855.4h-8" stroke="#555" stroke-width="2.4"/><path d="M1117.7 933.8h-7" stroke="#555" stroke-width="1.8"/><path d="M1117.7 1011.5h-6" stroke="#ddd" stroke-width="1.6"/>
<rect x="1171.8" y="101.0" width="3.4" height="1.6" fill="#222"/><rect x="1171.8" y="173.3" width="3.4" height="1.6" fill="#222"/><rect x="1171.8" y="210.2" width="3.4" height="1.6" fill="#333"/><rect x="1171.8" y="245.5" width="3.4" height="1.6" fill="#2a9"/><rect x="1171.8" y="280.7" width="3.4" height="1.6" fill="#124"/><rect x="1171.8" y="318.0" width="3.4" height="1.6" fill="#11a"/><rect x="1171.8" y="466.2" width="3.4" height="1.6" fill="#400"/><rect x="1171.8" y="505.1" width="3.4" height="1.6" fill="#222"/><rect x="1171.8" y="545.4" width="3.4" height="1.6" fill="#222"/><rect x="1171.8" y="621.0" width="3.4" height="1.6" fill="#165"/><rect x="1171.8" y="659.2" width="3.4" height="1.6" fill="#124"/><rect x="1171.8" y="698.2" width="3.4" height="1.6" fill="#11a"/>
<rect x="289" y="841.5" width="830.8" height="3.5" fill="#7a7a7a"/>
<rect x="289" y="841.5" width="3.9" height="250" fill="#808080"/>
<rect x="289" y="1087.7" width="830.8" height="1.2" fill="#d0d0d0"/>
<rect x="289" y="1088.7" width="830.8" height="2.7" fill="#636363"/>
<rect x="1117.7" y="841.5" width="2.1" height="250" fill="#555"/>
<g><rect x="293" y="834" width="2" height="2.6" fill="#e4e4e4"/><rect x="299" y="834" width="3" height="2.6" fill="#e0e0e0"/><rect x="307" y="834" width="4" height="2.6" fill="#c8c8c8"/><rect x="315" y="834" width="6" height="2.6" fill="#aaa"/></g>
</svg>

<div class="t n" id="a1" style="left:137.6px;top:63.6px">10000</div>
<div class="t n" id="a2" style="left:158.6px;top:194.2px">5000</div>
<div class="t n" id="a3" style="left:196px;top:307.9px">0</div>
<div class="t n" id="b1" style="left:137.6px;top:447.1px">10000</div>
<div class="t n" id="b2" style="left:158.6px;top:575.9px">5000</div>
<div class="t n" id="b3" style="left:196px;top:695.2px">0</div>
<div class="t" id="la" style="left:305.8px;top:75.9px;font-size:60px">(a)</div>
<div class="t" id="lb" style="left:305.8px;top:457.5px;font-size:60px">(b)</div>
<div class="t" id="lc" style="left:305.9px;top:842.3px;font-size:60px;z-index:1">(c)</div>
<div class="t rot" id="ra" style="left:53.3px;top:368.6px;font-size:58px;transform:rotate(-90deg)">Round Trips</div>
<div class="t rot" id="rb" style="left:53.3px;top:758.6px;font-size:58px;transform:rotate(-90deg)">Round Trips</div>
<div class="t rot" id="pa" style="left:1350.4px;top:89.5px;font-size:57.5px;transform:rotate(90deg)">Power (W)</div>
<div class="t rot" id="pb" style="left:1350.4px;top:468.5px;font-size:57.5px;transform:rotate(90deg)">Power (W)</div>
<div class="t rot" id="pc" style="left:1350.4px;top:837.5px;font-size:57.5px;transform:rotate(90deg)">Power (W)</div>
<div class="t n" id="ca3" style="left:1202.2px;top:76.6px">3</div>
<div class="t n" id="ca2" style="left:1202.2px;top:167.9px">2</div>
<div class="t n" id="ca1" style="left:1202.2px;top:276px">1</div>
<div class="t n" id="cb3" style="left:1202.2px;top:467.5px">3</div>
<div class="t n" id="cb2" style="left:1202.2px;top:554.6px">2</div>
<div class="t n" id="cb1" style="left:1202.2px;top:657.6px">1</div>
<div class="t n" id="cc3" style="left:1151.4px;top:831.2px">3</div>
<div class="t n" id="cc2" style="left:1151.4px;top:923.5px">2</div>
<div class="t n" id="cc1" style="left:1151.4px;top:1011.6px">1</div>
<div class="t e" id="ea" style="left:1153px;top:36px"><span class="x">×</span>10<sup>-3</sup></div>
<div class="t e" id="eb" style="left:1153px;top:419px"><span class="x">×</span>10<sup>-3</sup></div>
<div class="t e" id="ec" style="left:1153px;top:788px"><span class="x">×</span>10<sup>-3</sup></div>
<div class="t n" id="x1" style="left:258.8px;top:1103px">-1</div>
<div class="t n" id="x2" style="left:689px;top:1103px">0</div>
<div class="t n" id="x3" style="left:1096.5px;top:1102.4px">1</div>
<div class="t" id="xl" style="left:590.7px;top:1160.5px;font-size:58px">Time (ns)</div>

</body></html>
